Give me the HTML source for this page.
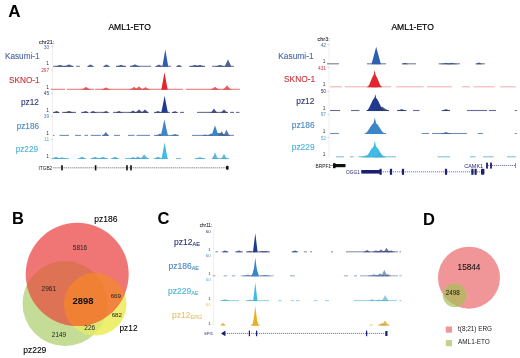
<!DOCTYPE html>
<html><head><meta charset="utf-8"><style>
html,body{margin:0;padding:0;background:#fff;}
body{width:520px;height:358px;overflow:hidden;position:relative;}
svg{filter:blur(0.45px);position:absolute;left:0;top:0;font-family:"Liberation Sans", sans-serif;}
</style></head><body>
<svg width="520" height="358" viewBox="0 0 520 358">
<rect width="520" height="358" fill="#fff"/>
<text x="8.3" y="17" font-size="17" fill="#000" text-anchor="start" font-weight="bold" >A</text><text x="129.6" y="30" font-size="8.5" fill="#000" text-anchor="middle" font-weight="normal" stroke="#000" stroke-width="0.2">AML1-ETO</text><text x="412.6" y="29.8" font-size="8.5" fill="#000" text-anchor="middle" font-weight="normal" stroke="#000" stroke-width="0.2">AML1-ETO</text><rect x="52.400000000000006" y="45" width="0.6" height="115" fill="#e6e6e6"/><text x="54.3" y="43.8" font-size="5.5" fill="#333" text-anchor="end" font-weight="normal" stroke="#333" stroke-width="0.12">chr21:</text><text x="39.6" y="59.2" font-size="8.2" fill="#4a68a8" text-anchor="end" font-weight="normal" stroke="#4a68a8" stroke-width="0.12">Kasumi-1</text><text x="49.2" y="48.8" font-size="4.8" fill="#4a68a8" text-anchor="end" font-weight="normal" >30</text><text x="48.8" y="65.2" font-size="4.8" fill="#333" text-anchor="end" font-weight="normal" >1</text><rect x="51.1" y="46.5" width="1.6" height="0.5" fill="#aaa"/><text x="39.6" y="83.0" font-size="8.2" fill="#c9343c" text-anchor="end" font-weight="normal" stroke="#c9343c" stroke-width="0.12">SKNO-1</text><text x="49.2" y="72.1" font-size="4.8" fill="#c9343c" text-anchor="end" font-weight="normal" >297</text><text x="48.8" y="88.5" font-size="4.8" fill="#333" text-anchor="end" font-weight="normal" >1</text><rect x="51.1" y="69.8" width="1.6" height="0.5" fill="#aaa"/><text x="38.8" y="105.3" font-size="8.2" fill="#2e3870" text-anchor="end" font-weight="normal" stroke="#2e3870" stroke-width="0.12">pz12</text><text x="49.2" y="95.2" font-size="4.8" fill="#2e3870" text-anchor="end" font-weight="normal" >45</text><text x="48.8" y="111.60000000000001" font-size="4.8" fill="#333" text-anchor="end" font-weight="normal" >1</text><rect x="51.1" y="92.9" width="1.6" height="0.5" fill="#aaa"/><text x="39.0" y="129.3" font-size="8.2" fill="#4a88c2" text-anchor="end" font-weight="normal" stroke="#4a88c2" stroke-width="0.12">pz186</text><text x="49.2" y="118.2" font-size="4.8" fill="#4a88c2" text-anchor="end" font-weight="normal" >39</text><text x="48.8" y="134.6" font-size="4.8" fill="#333" text-anchor="end" font-weight="normal" >1</text><rect x="51.1" y="115.9" width="1.6" height="0.5" fill="#aaa"/><text x="38.0" y="151.9" font-size="8.2" fill="#4eb2d8" text-anchor="end" font-weight="normal" stroke="#4eb2d8" stroke-width="0.12">pz229</text><text x="49.2" y="141.3" font-size="4.8" fill="#4eb2d8" text-anchor="end" font-weight="normal" >11</text><text x="48.8" y="157.7" font-size="4.8" fill="#333" text-anchor="end" font-weight="normal" >1</text><rect x="51.1" y="139.0" width="1.6" height="0.5" fill="#aaa"/><rect x="53.00" y="65.75" width="20.00" height="1.10" fill="#3b4c7c" opacity="0.72"/><rect x="76.00" y="65.75" width="4.00" height="1.10" fill="#3b4c7c" opacity="0.72"/><rect x="88.00" y="65.75" width="5.00" height="1.10" fill="#3b4c7c" opacity="0.72"/><rect x="104.00" y="65.75" width="5.00" height="1.10" fill="#3b4c7c" opacity="0.72"/><rect x="116.00" y="65.75" width="10.00" height="1.10" fill="#3b4c7c" opacity="0.72"/><rect x="130.00" y="65.75" width="21.00" height="1.10" fill="#3b4c7c" opacity="0.72"/><rect x="156.00" y="65.75" width="15.00" height="1.10" fill="#3b4c7c" opacity="0.72"/><rect x="177.00" y="65.75" width="4.00" height="1.10" fill="#3b4c7c" opacity="0.72"/><rect x="189.00" y="65.75" width="16.00" height="1.10" fill="#3b4c7c" opacity="0.72"/><rect x="212.00" y="65.75" width="22.00" height="1.10" fill="#3b4c7c" opacity="0.72"/><polygon points="55.00,66.70 55.00,66.30 55.21,66.29 55.42,66.26 55.62,66.23 55.83,66.20 56.04,66.16 56.25,66.11 56.46,66.06 56.67,66.01 56.88,65.96 57.08,65.90 57.29,65.83 57.50,65.77 57.71,65.70 57.92,65.63 58.12,65.56 58.33,65.48 58.54,65.41 58.75,65.33 58.96,65.24 59.17,65.16 59.38,65.07 59.58,64.98 59.79,64.89 60.00,64.80 60.21,64.89 60.42,64.98 60.62,65.07 60.83,65.16 61.04,65.24 61.25,65.33 61.46,65.41 61.67,65.48 61.88,65.56 62.08,65.63 62.29,65.70 62.50,65.77 62.71,65.83 62.92,65.90 63.12,65.96 63.33,66.01 63.54,66.06 63.75,66.11 63.96,66.16 64.17,66.20 64.38,66.23 64.58,66.26 64.79,66.29 65.00,66.30 65.00,66.70" fill="#3b4c7c" opacity="0.87"/><polygon points="64.00,66.70 64.00,66.30 64.21,66.28 64.42,66.25 64.62,66.21 64.83,66.16 65.04,66.11 65.25,66.05 65.46,65.98 65.67,65.92 65.88,65.84 66.08,65.76 66.29,65.68 66.50,65.59 66.71,65.50 66.92,65.41 67.12,65.31 67.33,65.21 67.54,65.11 67.75,65.00 67.96,64.89 68.17,64.78 68.38,64.66 68.58,64.54 68.79,64.42 69.00,64.30 69.21,64.42 69.42,64.54 69.62,64.66 69.83,64.78 70.04,64.89 70.25,65.00 70.46,65.11 70.67,65.21 70.88,65.31 71.08,65.41 71.29,65.50 71.50,65.59 71.71,65.68 71.92,65.76 72.12,65.84 72.33,65.92 72.54,65.98 72.75,66.05 72.96,66.11 73.17,66.16 73.38,66.21 73.58,66.25 73.79,66.28 74.00,66.30 74.00,66.70" fill="#3b4c7c" opacity="0.87"/><polygon points="87.00,66.70 87.00,66.30 87.15,66.28 87.29,66.25 87.44,66.21 87.58,66.16 87.73,66.11 87.88,66.05 88.02,65.98 88.17,65.92 88.31,65.84 88.46,65.76 88.60,65.68 88.75,65.59 88.90,65.50 89.04,65.41 89.19,65.31 89.33,65.21 89.48,65.11 89.62,65.00 89.77,64.89 89.92,64.78 90.06,64.66 90.21,64.54 90.35,64.42 90.50,64.30 90.65,64.42 90.79,64.54 90.94,64.66 91.08,64.78 91.23,64.89 91.38,65.00 91.52,65.11 91.67,65.21 91.81,65.31 91.96,65.41 92.10,65.50 92.25,65.59 92.40,65.68 92.54,65.76 92.69,65.84 92.83,65.92 92.98,65.98 93.12,66.05 93.27,66.11 93.42,66.16 93.56,66.21 93.71,66.25 93.85,66.28 94.00,66.30 94.00,66.70" fill="#3b4c7c" opacity="0.87"/><polygon points="103.00,66.70 103.00,66.30 103.15,66.28 103.29,66.25 103.44,66.21 103.58,66.16 103.73,66.11 103.88,66.05 104.02,65.98 104.17,65.92 104.31,65.84 104.46,65.76 104.60,65.68 104.75,65.59 104.90,65.50 105.04,65.41 105.19,65.31 105.33,65.21 105.48,65.11 105.62,65.00 105.77,64.89 105.92,64.78 106.06,64.66 106.21,64.54 106.35,64.42 106.50,64.30 106.65,64.42 106.79,64.54 106.94,64.66 107.08,64.78 107.23,64.89 107.38,65.00 107.52,65.11 107.67,65.21 107.81,65.31 107.96,65.41 108.10,65.50 108.25,65.59 108.40,65.68 108.54,65.76 108.69,65.84 108.83,65.92 108.98,65.98 109.12,66.05 109.27,66.11 109.42,66.16 109.56,66.21 109.71,66.25 109.85,66.28 110.00,66.30 110.00,66.70" fill="#3b4c7c" opacity="0.87"/><polygon points="116.00,66.70 116.00,66.30 116.21,66.29 116.42,66.26 116.62,66.23 116.83,66.20 117.04,66.16 117.25,66.11 117.46,66.06 117.67,66.01 117.88,65.96 118.08,65.90 118.29,65.83 118.50,65.77 118.71,65.70 118.92,65.63 119.12,65.56 119.33,65.48 119.54,65.41 119.75,65.33 119.96,65.24 120.17,65.16 120.38,65.07 120.58,64.98 120.79,64.89 121.00,64.80 121.21,64.89 121.42,64.98 121.62,65.07 121.83,65.16 122.04,65.24 122.25,65.33 122.46,65.41 122.67,65.48 122.88,65.56 123.08,65.63 123.29,65.70 123.50,65.77 123.71,65.83 123.92,65.90 124.12,65.96 124.33,66.01 124.54,66.06 124.75,66.11 124.96,66.16 125.17,66.20 125.38,66.23 125.58,66.26 125.79,66.29 126.00,66.30 126.00,66.70" fill="#3b4c7c" opacity="0.87"/><polygon points="130.00,66.70 130.00,66.30 130.21,66.28 130.42,66.25 130.62,66.21 130.83,66.16 131.04,66.11 131.25,66.05 131.46,65.98 131.67,65.92 131.88,65.84 132.08,65.76 132.29,65.68 132.50,65.59 132.71,65.50 132.92,65.41 133.12,65.31 133.33,65.21 133.54,65.11 133.75,65.00 133.96,64.89 134.17,64.78 134.38,64.66 134.58,64.54 134.79,64.42 135.00,64.30 135.21,64.42 135.42,64.54 135.62,64.66 135.83,64.78 136.04,64.89 136.25,65.00 136.46,65.11 136.67,65.21 136.88,65.31 137.08,65.41 137.29,65.50 137.50,65.59 137.71,65.68 137.92,65.76 138.12,65.84 138.33,65.92 138.54,65.98 138.75,66.05 138.96,66.11 139.17,66.16 139.38,66.21 139.58,66.25 139.79,66.28 140.00,66.30 140.00,66.70" fill="#3b4c7c" opacity="0.87"/><polygon points="155.00,66.70 155.00,66.30 155.17,66.28 155.33,66.26 155.50,66.22 155.67,66.18 155.83,66.13 156.00,66.08 156.17,66.02 156.33,65.95 156.50,65.89 156.67,65.82 156.83,65.74 157.00,65.66 157.17,65.58 157.33,65.50 157.50,65.41 157.67,65.32 157.83,65.23 158.00,65.13 158.17,65.03 158.33,64.93 158.50,64.83 158.67,64.72 158.83,64.61 159.00,64.50 159.17,64.61 159.33,64.72 159.50,64.83 159.67,64.93 159.83,65.03 160.00,65.13 160.17,65.23 160.33,65.32 160.50,65.41 160.67,65.50 160.83,65.58 161.00,65.66 161.17,65.74 161.33,65.82 161.50,65.89 161.67,65.95 161.83,66.02 162.00,66.08 162.17,66.13 162.33,66.18 162.50,66.22 162.67,66.26 162.83,66.28 163.00,66.30 163.00,66.70" fill="#3b4c7c" opacity="0.87"/><polygon points="162.40,66.70 162.40,66.30 162.52,65.59 162.64,64.88 162.76,64.17 162.88,63.47 163.00,62.76 163.12,62.05 163.25,61.34 163.37,60.63 163.49,59.92 163.61,59.22 163.73,58.51 163.85,57.80 163.97,57.09 164.09,56.38 164.21,55.68 164.33,54.97 164.45,54.26 164.58,53.55 164.70,52.84 164.82,52.13 164.94,51.43 165.06,50.72 165.18,50.01 165.30,49.30 165.42,50.01 165.54,50.72 165.66,51.42 165.78,52.13 165.90,52.84 166.03,53.55 166.15,54.26 166.27,54.97 166.39,55.68 166.51,56.38 166.63,57.09 166.75,57.80 166.87,58.51 166.99,59.22 167.11,59.92 167.23,60.63 167.35,61.34 167.47,62.05 167.60,62.76 167.72,63.47 167.84,64.17 167.96,64.88 168.08,65.59 168.20,66.30 168.20,66.70" fill="#2f5fae" opacity="1"/><polygon points="176.00,66.70 176.00,66.30 176.12,66.29 176.25,66.26 176.38,66.23 176.50,66.20 176.62,66.16 176.75,66.11 176.88,66.06 177.00,66.01 177.12,65.96 177.25,65.90 177.38,65.83 177.50,65.77 177.62,65.70 177.75,65.63 177.88,65.56 178.00,65.48 178.12,65.41 178.25,65.33 178.38,65.24 178.50,65.16 178.62,65.07 178.75,64.98 178.88,64.89 179.00,64.80 179.12,64.89 179.25,64.98 179.38,65.07 179.50,65.16 179.62,65.24 179.75,65.33 179.88,65.41 180.00,65.48 180.12,65.56 180.25,65.63 180.38,65.70 180.50,65.77 180.62,65.83 180.75,65.90 180.88,65.96 181.00,66.01 181.12,66.06 181.25,66.11 181.38,66.16 181.50,66.20 181.62,66.23 181.75,66.26 181.88,66.29 182.00,66.30 182.00,66.70" fill="#3b4c7c" opacity="0.87"/><polygon points="190.00,66.70 190.00,66.30 190.21,66.29 190.42,66.26 190.62,66.23 190.83,66.20 191.04,66.16 191.25,66.11 191.46,66.06 191.67,66.01 191.88,65.96 192.08,65.90 192.29,65.83 192.50,65.77 192.71,65.70 192.92,65.63 193.12,65.56 193.33,65.48 193.54,65.41 193.75,65.33 193.96,65.24 194.17,65.16 194.38,65.07 194.58,64.98 194.79,64.89 195.00,64.80 195.21,64.89 195.42,64.98 195.62,65.07 195.83,65.16 196.04,65.24 196.25,65.33 196.46,65.41 196.67,65.48 196.88,65.56 197.08,65.63 197.29,65.70 197.50,65.77 197.71,65.83 197.92,65.90 198.12,65.96 198.33,66.01 198.54,66.06 198.75,66.11 198.96,66.16 199.17,66.20 199.38,66.23 199.58,66.26 199.79,66.29 200.00,66.30 200.00,66.70" fill="#3b4c7c" opacity="0.87"/><polygon points="195.00,66.70 195.00,66.30 195.21,66.29 195.42,66.26 195.62,66.23 195.83,66.20 196.04,66.16 196.25,66.11 196.46,66.06 196.67,66.01 196.88,65.96 197.08,65.90 197.29,65.83 197.50,65.77 197.71,65.70 197.92,65.63 198.12,65.56 198.33,65.48 198.54,65.41 198.75,65.33 198.96,65.24 199.17,65.16 199.38,65.07 199.58,64.98 199.79,64.89 200.00,64.80 200.21,64.89 200.42,64.98 200.62,65.07 200.83,65.16 201.04,65.24 201.25,65.33 201.46,65.41 201.67,65.48 201.88,65.56 202.08,65.63 202.29,65.70 202.50,65.77 202.71,65.83 202.92,65.90 203.12,65.96 203.33,66.01 203.54,66.06 203.75,66.11 203.96,66.16 204.17,66.20 204.38,66.23 204.58,66.26 204.79,66.29 205.00,66.30 205.00,66.70" fill="#3b4c7c" opacity="0.87"/><polygon points="215.00,66.70 215.00,66.30 215.21,66.29 215.42,66.26 215.62,66.23 215.83,66.20 216.04,66.16 216.25,66.11 216.46,66.06 216.67,66.01 216.88,65.96 217.08,65.90 217.29,65.83 217.50,65.77 217.71,65.70 217.92,65.63 218.12,65.56 218.33,65.48 218.54,65.41 218.75,65.33 218.96,65.24 219.17,65.16 219.38,65.07 219.58,64.98 219.79,64.89 220.00,64.80 220.21,64.89 220.42,64.98 220.62,65.07 220.83,65.16 221.04,65.24 221.25,65.33 221.46,65.41 221.67,65.48 221.88,65.56 222.08,65.63 222.29,65.70 222.50,65.77 222.71,65.83 222.92,65.90 223.12,65.96 223.33,66.01 223.54,66.06 223.75,66.11 223.96,66.16 224.17,66.20 224.38,66.23 224.58,66.26 224.79,66.29 225.00,66.30 225.00,66.70" fill="#3b4c7c" opacity="0.87"/><polygon points="224.80,66.70 224.80,66.30 224.93,66.01 225.07,65.72 225.20,65.42 225.33,65.13 225.47,64.84 225.60,64.55 225.73,64.26 225.87,63.97 226.00,63.67 226.13,63.38 226.27,63.09 226.40,62.80 226.53,62.51 226.67,62.22 226.80,61.92 226.93,61.63 227.07,61.34 227.20,61.05 227.33,60.76 227.47,60.47 227.60,60.17 227.73,59.88 227.87,59.59 228.00,59.30 228.13,59.59 228.27,59.88 228.40,60.18 228.53,60.47 228.67,60.76 228.80,61.05 228.93,61.34 229.07,61.63 229.20,61.93 229.33,62.22 229.47,62.51 229.60,62.80 229.73,63.09 229.87,63.38 230.00,63.67 230.13,63.97 230.27,64.26 230.40,64.55 230.53,64.84 230.67,65.13 230.80,65.43 230.93,65.72 231.07,66.01 231.20,66.30 231.20,66.70" fill="#3b4c7c" opacity="0.87"/><rect x="51.00" y="88.75" width="14.00" height="1.10" fill="#e04a4a" opacity="0.72"/><rect x="67.00" y="88.75" width="27.00" height="1.10" fill="#e04a4a" opacity="0.72"/><rect x="95.00" y="88.75" width="88.00" height="1.10" fill="#e04a4a" opacity="0.72"/><rect x="186.00" y="88.75" width="54.00" height="1.10" fill="#e04a4a" opacity="0.72"/><polygon points="81.00,89.70 81.00,89.30 81.21,89.28 81.42,89.24 81.62,89.19 81.83,89.13 82.04,89.06 82.25,88.99 82.46,88.91 82.67,88.82 82.88,88.73 83.08,88.63 83.29,88.52 83.50,88.42 83.71,88.30 83.92,88.19 84.12,88.06 84.33,87.94 84.54,87.81 84.75,87.68 84.96,87.54 85.17,87.40 85.38,87.25 85.58,87.11 85.79,86.95 86.00,86.80 86.21,86.95 86.42,87.11 86.62,87.25 86.83,87.40 87.04,87.54 87.25,87.68 87.46,87.81 87.67,87.94 87.88,88.06 88.08,88.19 88.29,88.30 88.50,88.42 88.71,88.52 88.92,88.63 89.12,88.73 89.33,88.82 89.54,88.91 89.75,88.99 89.96,89.06 90.17,89.13 90.38,89.19 90.58,89.24 90.79,89.28 91.00,89.30 91.00,89.70" fill="#e04a4a" opacity="0.87"/><polygon points="101.50,89.70 101.50,89.30 101.69,89.28 101.88,89.25 102.06,89.21 102.25,89.16 102.44,89.11 102.62,89.05 102.81,88.98 103.00,88.92 103.19,88.84 103.38,88.76 103.56,88.68 103.75,88.59 103.94,88.50 104.12,88.41 104.31,88.31 104.50,88.21 104.69,88.11 104.88,88.00 105.06,87.89 105.25,87.78 105.44,87.66 105.62,87.54 105.81,87.42 106.00,87.30 106.19,87.42 106.38,87.54 106.56,87.66 106.75,87.78 106.94,87.89 107.12,88.00 107.31,88.11 107.50,88.21 107.69,88.31 107.88,88.41 108.06,88.50 108.25,88.59 108.44,88.68 108.62,88.76 108.81,88.84 109.00,88.92 109.19,88.98 109.38,89.05 109.56,89.11 109.75,89.16 109.94,89.21 110.12,89.25 110.31,89.28 110.50,89.30 110.50,89.70" fill="#e04a4a" opacity="0.87"/><polygon points="129.50,89.70 129.50,89.30 129.69,89.28 129.88,89.24 130.06,89.19 130.25,89.13 130.44,89.06 130.62,88.99 130.81,88.91 131.00,88.82 131.19,88.73 131.38,88.63 131.56,88.52 131.75,88.42 131.94,88.30 132.12,88.19 132.31,88.06 132.50,87.94 132.69,87.81 132.88,87.68 133.06,87.54 133.25,87.40 133.44,87.25 133.62,87.11 133.81,86.95 134.00,86.80 134.19,86.95 134.38,87.11 134.56,87.25 134.75,87.40 134.94,87.54 135.12,87.68 135.31,87.81 135.50,87.94 135.69,88.06 135.88,88.19 136.06,88.30 136.25,88.42 136.44,88.52 136.62,88.63 136.81,88.73 137.00,88.82 137.19,88.91 137.38,88.99 137.56,89.06 137.75,89.13 137.94,89.19 138.12,89.24 138.31,89.28 138.50,89.30 138.50,89.70" fill="#e04a4a" opacity="0.87"/><polygon points="134.50,89.70 134.50,89.30 134.69,89.27 134.88,89.23 135.06,89.17 135.25,89.10 135.44,89.01 135.62,88.92 135.81,88.83 136.00,88.72 136.19,88.61 136.38,88.49 136.56,88.37 136.75,88.24 136.94,88.10 137.12,87.96 137.31,87.82 137.50,87.67 137.69,87.51 137.88,87.35 138.06,87.19 138.25,87.02 138.44,86.84 138.62,86.67 138.81,86.49 139.00,86.30 139.19,86.49 139.38,86.67 139.56,86.84 139.75,87.02 139.94,87.19 140.12,87.35 140.31,87.51 140.50,87.67 140.69,87.82 140.88,87.96 141.06,88.10 141.25,88.24 141.44,88.37 141.62,88.49 141.81,88.61 142.00,88.72 142.19,88.83 142.38,88.92 142.56,89.01 142.75,89.10 142.94,89.17 143.12,89.23 143.31,89.27 143.50,89.30 143.50,89.70" fill="#e04a4a" opacity="0.87"/><polygon points="141.00,89.70 141.00,89.30 141.19,89.28 141.38,89.25 141.56,89.20 141.75,89.15 141.94,89.09 142.12,89.02 142.31,88.95 142.50,88.88 142.69,88.79 142.88,88.71 143.06,88.62 143.25,88.52 143.44,88.42 143.62,88.32 143.81,88.21 144.00,88.10 144.19,87.99 144.38,87.87 144.56,87.75 144.75,87.63 144.94,87.50 145.12,87.37 145.31,87.24 145.50,87.10 145.69,87.24 145.88,87.37 146.06,87.50 146.25,87.63 146.44,87.75 146.62,87.87 146.81,87.99 147.00,88.10 147.19,88.21 147.38,88.32 147.56,88.42 147.75,88.52 147.94,88.62 148.12,88.71 148.31,88.79 148.50,88.88 148.69,88.95 148.88,89.02 149.06,89.09 149.25,89.15 149.44,89.20 149.62,89.25 149.81,89.28 150.00,89.30 150.00,89.70" fill="#e04a4a" opacity="0.87"/><polygon points="161.40,89.70 161.40,89.30 161.53,88.59 161.66,87.88 161.79,87.18 161.92,86.47 162.05,85.76 162.18,85.05 162.30,84.34 162.43,83.63 162.56,82.92 162.69,82.22 162.82,81.51 162.95,80.80 163.08,80.09 163.21,79.38 163.34,78.67 163.47,77.97 163.60,77.26 163.72,76.55 163.85,75.84 163.98,75.13 164.11,74.42 164.24,73.72 164.37,73.01 164.50,72.30 164.63,73.01 164.76,73.72 164.89,74.43 165.02,75.13 165.15,75.84 165.28,76.55 165.40,77.26 165.53,77.97 165.66,78.67 165.79,79.38 165.92,80.09 166.05,80.80 166.18,81.51 166.31,82.22 166.44,82.92 166.57,83.63 166.70,84.34 166.83,85.05 166.95,85.76 167.08,86.47 167.21,87.18 167.34,87.88 167.47,88.59 167.60,89.30 167.60,89.70" fill="#e3262e" opacity="1"/><polygon points="210.50,89.70 210.50,89.30 210.69,89.28 210.88,89.24 211.06,89.19 211.25,89.13 211.44,89.06 211.62,88.99 211.81,88.91 212.00,88.82 212.19,88.73 212.38,88.63 212.56,88.52 212.75,88.42 212.94,88.30 213.12,88.19 213.31,88.06 213.50,87.94 213.69,87.81 213.88,87.68 214.06,87.54 214.25,87.40 214.44,87.25 214.62,87.11 214.81,86.95 215.00,86.80 215.19,86.95 215.38,87.11 215.56,87.25 215.75,87.40 215.94,87.54 216.12,87.68 216.31,87.81 216.50,87.94 216.69,88.06 216.88,88.19 217.06,88.30 217.25,88.42 217.44,88.52 217.62,88.63 217.81,88.73 218.00,88.82 218.19,88.91 218.38,88.99 218.56,89.06 218.75,89.13 218.94,89.19 219.12,89.24 219.31,89.28 219.50,89.30 219.50,89.70" fill="#e04a4a" opacity="0.87"/><polygon points="222.50,89.70 222.50,89.30 222.69,89.27 222.88,89.20 223.06,89.12 223.25,89.03 223.44,88.92 223.62,88.80 223.81,88.67 224.00,88.53 224.19,88.38 224.38,88.22 224.56,88.06 224.75,87.89 224.94,87.71 225.12,87.52 225.31,87.32 225.50,87.12 225.69,86.92 225.88,86.70 226.06,86.48 226.25,86.26 226.44,86.03 226.62,85.79 226.81,85.55 227.00,85.30 227.19,85.55 227.38,85.79 227.56,86.03 227.75,86.26 227.94,86.48 228.12,86.70 228.31,86.92 228.50,87.12 228.69,87.32 228.88,87.52 229.06,87.71 229.25,87.89 229.44,88.06 229.62,88.22 229.81,88.38 230.00,88.53 230.19,88.67 230.38,88.80 230.56,88.92 230.75,89.03 230.94,89.12 231.12,89.20 231.31,89.27 231.50,89.30 231.50,89.70" fill="#e04a4a" opacity="0.87"/><rect x="53.00" y="111.85" width="6.00" height="1.10" fill="#2a3672" opacity="0.72"/><rect x="62.00" y="111.85" width="14.00" height="1.10" fill="#2a3672" opacity="0.72"/><rect x="81.00" y="111.85" width="7.00" height="1.10" fill="#2a3672" opacity="0.72"/><rect x="91.00" y="111.85" width="17.00" height="1.10" fill="#2a3672" opacity="0.72"/><rect x="113.00" y="111.85" width="35.00" height="1.10" fill="#2a3672" opacity="0.72"/><rect x="154.00" y="111.85" width="16.00" height="1.10" fill="#2a3672" opacity="0.72"/><rect x="172.00" y="111.85" width="5.00" height="1.10" fill="#2a3672" opacity="0.72"/><rect x="180.00" y="111.85" width="4.00" height="1.10" fill="#2a3672" opacity="0.72"/><rect x="197.00" y="111.85" width="31.00" height="1.10" fill="#2a3672" opacity="0.72"/><rect x="230.00" y="111.85" width="4.00" height="1.10" fill="#2a3672" opacity="0.72"/><rect x="236.00" y="111.85" width="3.50" height="1.10" fill="#2a3672" opacity="0.72"/><polygon points="53.00,112.80 53.00,112.40 53.15,112.39 53.29,112.36 53.44,112.33 53.58,112.30 53.73,112.26 53.88,112.21 54.02,112.16 54.17,112.11 54.31,112.06 54.46,112.00 54.60,111.93 54.75,111.87 54.90,111.80 55.04,111.73 55.19,111.66 55.33,111.58 55.48,111.51 55.62,111.43 55.77,111.34 55.92,111.26 56.06,111.17 56.21,111.08 56.35,110.99 56.50,110.90 56.65,110.99 56.79,111.08 56.94,111.17 57.08,111.26 57.23,111.34 57.38,111.43 57.52,111.51 57.67,111.58 57.81,111.66 57.96,111.73 58.10,111.80 58.25,111.87 58.40,111.93 58.54,112.00 58.69,112.06 58.83,112.11 58.98,112.16 59.12,112.21 59.27,112.26 59.42,112.30 59.56,112.33 59.71,112.36 59.85,112.39 60.00,112.40 60.00,112.80" fill="#2a3672" opacity="0.87"/><polygon points="64.00,112.80 64.00,112.40 64.21,112.39 64.42,112.36 64.62,112.33 64.83,112.30 65.04,112.26 65.25,112.21 65.46,112.16 65.67,112.11 65.88,112.06 66.08,112.00 66.29,111.93 66.50,111.87 66.71,111.80 66.92,111.73 67.12,111.66 67.33,111.58 67.54,111.51 67.75,111.43 67.96,111.34 68.17,111.26 68.38,111.17 68.58,111.08 68.79,110.99 69.00,110.90 69.21,110.99 69.42,111.08 69.62,111.17 69.83,111.26 70.04,111.34 70.25,111.43 70.46,111.51 70.67,111.58 70.88,111.66 71.08,111.73 71.29,111.80 71.50,111.87 71.71,111.93 71.92,112.00 72.12,112.06 72.33,112.11 72.54,112.16 72.75,112.21 72.96,112.26 73.17,112.30 73.38,112.33 73.58,112.36 73.79,112.39 74.00,112.40 74.00,112.80" fill="#2a3672" opacity="0.87"/><polygon points="82.00,112.80 82.00,112.40 82.15,112.39 82.29,112.36 82.44,112.33 82.58,112.30 82.73,112.26 82.88,112.21 83.02,112.16 83.17,112.11 83.31,112.06 83.46,112.00 83.60,111.93 83.75,111.87 83.90,111.80 84.04,111.73 84.19,111.66 84.33,111.58 84.48,111.51 84.62,111.43 84.77,111.34 84.92,111.26 85.06,111.17 85.21,111.08 85.35,110.99 85.50,110.90 85.65,110.99 85.79,111.08 85.94,111.17 86.08,111.26 86.23,111.34 86.38,111.43 86.52,111.51 86.67,111.58 86.81,111.66 86.96,111.73 87.10,111.80 87.25,111.87 87.40,111.93 87.54,112.00 87.69,112.06 87.83,112.11 87.98,112.16 88.12,112.21 88.27,112.26 88.42,112.30 88.56,112.33 88.71,112.36 88.85,112.39 89.00,112.40 89.00,112.80" fill="#2a3672" opacity="0.87"/><polygon points="89.50,112.80 89.50,112.40 89.65,112.39 89.79,112.36 89.94,112.33 90.08,112.30 90.23,112.26 90.38,112.21 90.52,112.16 90.67,112.11 90.81,112.06 90.96,112.00 91.10,111.93 91.25,111.87 91.40,111.80 91.54,111.73 91.69,111.66 91.83,111.58 91.98,111.51 92.12,111.43 92.27,111.34 92.42,111.26 92.56,111.17 92.71,111.08 92.85,110.99 93.00,110.90 93.15,110.99 93.29,111.08 93.44,111.17 93.58,111.26 93.73,111.34 93.88,111.43 94.02,111.51 94.17,111.58 94.31,111.66 94.46,111.73 94.60,111.80 94.75,111.87 94.90,111.93 95.04,112.00 95.19,112.06 95.33,112.11 95.48,112.16 95.62,112.21 95.77,112.26 95.92,112.30 96.06,112.33 96.21,112.36 96.35,112.39 96.50,112.40 96.50,112.80" fill="#2a3672" opacity="0.87"/><polygon points="102.50,112.80 102.50,112.40 102.65,112.39 102.79,112.36 102.94,112.33 103.08,112.30 103.23,112.26 103.38,112.21 103.52,112.16 103.67,112.11 103.81,112.06 103.96,112.00 104.10,111.93 104.25,111.87 104.40,111.80 104.54,111.73 104.69,111.66 104.83,111.58 104.98,111.51 105.12,111.43 105.27,111.34 105.42,111.26 105.56,111.17 105.71,111.08 105.85,110.99 106.00,110.90 106.15,110.99 106.29,111.08 106.44,111.17 106.58,111.26 106.73,111.34 106.88,111.43 107.02,111.51 107.17,111.58 107.31,111.66 107.46,111.73 107.60,111.80 107.75,111.87 107.90,111.93 108.04,112.00 108.19,112.06 108.33,112.11 108.48,112.16 108.62,112.21 108.77,112.26 108.92,112.30 109.06,112.33 109.21,112.36 109.35,112.39 109.50,112.40 109.50,112.80" fill="#2a3672" opacity="0.87"/><polygon points="115.50,112.80 115.50,112.40 115.65,112.39 115.79,112.36 115.94,112.33 116.08,112.30 116.23,112.26 116.38,112.21 116.52,112.16 116.67,112.11 116.81,112.06 116.96,112.00 117.10,111.93 117.25,111.87 117.40,111.80 117.54,111.73 117.69,111.66 117.83,111.58 117.98,111.51 118.12,111.43 118.27,111.34 118.42,111.26 118.56,111.17 118.71,111.08 118.85,110.99 119.00,110.90 119.15,110.99 119.29,111.08 119.44,111.17 119.58,111.26 119.73,111.34 119.88,111.43 120.02,111.51 120.17,111.58 120.31,111.66 120.46,111.73 120.60,111.80 120.75,111.87 120.90,111.93 121.04,112.00 121.19,112.06 121.33,112.11 121.48,112.16 121.62,112.21 121.77,112.26 121.92,112.30 122.06,112.33 122.21,112.36 122.35,112.39 122.50,112.40 122.50,112.80" fill="#2a3672" opacity="0.87"/><polygon points="129.50,112.80 129.50,112.40 129.65,112.38 129.79,112.35 129.94,112.31 130.08,112.26 130.23,112.21 130.38,112.15 130.52,112.08 130.67,112.02 130.81,111.94 130.96,111.86 131.10,111.78 131.25,111.69 131.40,111.60 131.54,111.51 131.69,111.41 131.83,111.31 131.98,111.21 132.12,111.10 132.27,110.99 132.42,110.88 132.56,110.76 132.71,110.64 132.85,110.52 133.00,110.40 133.15,110.52 133.29,110.64 133.44,110.76 133.58,110.88 133.73,110.99 133.88,111.10 134.02,111.21 134.17,111.31 134.31,111.41 134.46,111.51 134.60,111.60 134.75,111.69 134.90,111.78 135.04,111.86 135.19,111.94 135.33,112.02 135.48,112.08 135.62,112.15 135.77,112.21 135.92,112.26 136.06,112.31 136.21,112.35 136.35,112.38 136.50,112.40 136.50,112.80" fill="#2a3672" opacity="0.87"/><polygon points="135.00,112.80 135.00,112.40 135.17,112.37 135.33,112.33 135.50,112.27 135.67,112.20 135.83,112.11 136.00,112.03 136.17,111.93 136.33,111.82 136.50,111.71 136.67,111.59 136.83,111.47 137.00,111.34 137.17,111.20 137.33,111.06 137.50,110.92 137.67,110.77 137.83,110.61 138.00,110.45 138.17,110.29 138.33,110.12 138.50,109.94 138.67,109.77 138.83,109.59 139.00,109.40 139.17,109.59 139.33,109.77 139.50,109.94 139.67,110.12 139.83,110.29 140.00,110.45 140.17,110.61 140.33,110.77 140.50,110.92 140.67,111.06 140.83,111.20 141.00,111.34 141.17,111.47 141.33,111.59 141.50,111.71 141.67,111.82 141.83,111.93 142.00,112.03 142.17,112.11 142.33,112.20 142.50,112.27 142.67,112.33 142.83,112.37 143.00,112.40 143.00,112.80" fill="#2a3672" opacity="0.87"/><polygon points="141.00,112.80 141.00,112.40 141.17,112.37 141.33,112.33 141.50,112.27 141.67,112.20 141.83,112.11 142.00,112.03 142.17,111.93 142.33,111.82 142.50,111.71 142.67,111.59 142.83,111.47 143.00,111.34 143.17,111.20 143.33,111.06 143.50,110.92 143.67,110.77 143.83,110.61 144.00,110.45 144.17,110.29 144.33,110.12 144.50,109.94 144.67,109.77 144.83,109.59 145.00,109.40 145.17,109.59 145.33,109.77 145.50,109.94 145.67,110.12 145.83,110.29 146.00,110.45 146.17,110.61 146.33,110.77 146.50,110.92 146.67,111.06 146.83,111.20 147.00,111.34 147.17,111.47 147.33,111.59 147.50,111.71 147.67,111.82 147.83,111.93 148.00,112.03 148.17,112.11 148.33,112.20 148.50,112.27 148.67,112.33 148.83,112.37 149.00,112.40 149.00,112.80" fill="#2a3672" opacity="0.87"/><polygon points="154.50,112.80 154.50,112.40 154.65,112.39 154.79,112.36 154.94,112.33 155.08,112.30 155.23,112.26 155.38,112.21 155.52,112.16 155.67,112.11 155.81,112.06 155.96,112.00 156.10,111.93 156.25,111.87 156.40,111.80 156.54,111.73 156.69,111.66 156.83,111.58 156.98,111.51 157.12,111.43 157.27,111.34 157.42,111.26 157.56,111.17 157.71,111.08 157.85,110.99 158.00,110.90 158.15,110.99 158.29,111.08 158.44,111.17 158.58,111.26 158.73,111.34 158.88,111.43 159.02,111.51 159.17,111.58 159.31,111.66 159.46,111.73 159.60,111.80 159.75,111.87 159.90,111.93 160.04,112.00 160.19,112.06 160.33,112.11 160.48,112.16 160.62,112.21 160.77,112.26 160.92,112.30 161.06,112.33 161.21,112.36 161.35,112.39 161.50,112.40 161.50,112.80" fill="#2a3672" opacity="0.87"/><polygon points="161.30,112.80 161.30,112.40 161.44,111.81 161.57,111.18 161.71,110.53 161.85,109.87 161.99,109.20 162.12,108.53 162.26,107.85 162.40,107.16 162.54,106.47 162.67,105.78 162.81,105.08 162.95,104.38 163.09,103.68 163.22,102.97 163.36,102.27 163.50,101.56 163.64,100.84 163.77,100.13 163.91,99.41 164.05,98.69 164.19,97.97 164.32,97.25 164.46,96.53 164.60,95.80 164.74,96.53 164.87,97.25 165.01,97.97 165.15,98.69 165.29,99.41 165.42,100.13 165.56,100.84 165.70,101.56 165.84,102.27 165.97,102.97 166.11,103.68 166.25,104.38 166.39,105.08 166.52,105.78 166.66,106.47 166.80,107.16 166.94,107.85 167.07,108.53 167.21,109.20 167.35,109.87 167.49,110.53 167.62,111.18 167.76,111.81 167.90,112.40 167.90,112.80" fill="#1f3a8e" opacity="1"/><polygon points="171.50,112.80 171.50,112.40 171.65,112.39 171.79,112.37 171.94,112.35 172.08,112.32 172.23,112.29 172.38,112.25 172.52,112.21 172.67,112.17 172.81,112.12 172.96,112.08 173.10,112.03 173.25,111.98 173.40,111.92 173.54,111.87 173.69,111.81 173.83,111.75 173.98,111.68 174.12,111.62 174.27,111.55 174.42,111.49 174.56,111.42 174.71,111.35 174.85,111.27 175.00,111.20 175.15,111.27 175.29,111.35 175.44,111.42 175.58,111.49 175.73,111.55 175.88,111.62 176.02,111.68 176.17,111.75 176.31,111.81 176.46,111.87 176.60,111.92 176.75,111.98 176.90,112.03 177.04,112.08 177.19,112.12 177.33,112.17 177.48,112.21 177.62,112.25 177.77,112.29 177.92,112.32 178.06,112.35 178.21,112.37 178.35,112.39 178.50,112.40 178.50,112.80" fill="#2a3672" opacity="0.87"/><polygon points="210.50,112.80 210.50,112.40 210.65,112.37 210.79,112.30 210.94,112.22 211.08,112.13 211.23,112.02 211.38,111.90 211.52,111.77 211.67,111.63 211.81,111.48 211.96,111.32 212.10,111.16 212.25,110.99 212.40,110.81 212.54,110.62 212.69,110.42 212.83,110.22 212.98,110.02 213.12,109.80 213.27,109.58 213.42,109.36 213.56,109.13 213.71,108.89 213.85,108.65 214.00,108.40 214.15,108.65 214.29,108.89 214.44,109.13 214.58,109.36 214.73,109.58 214.88,109.80 215.02,110.02 215.17,110.22 215.31,110.42 215.46,110.62 215.60,110.81 215.75,110.99 215.90,111.16 216.04,111.32 216.19,111.48 216.33,111.63 216.48,111.77 216.62,111.90 216.77,112.02 216.92,112.13 217.06,112.22 217.21,112.30 217.35,112.37 217.50,112.40 217.50,112.80" fill="#2a3672" opacity="0.87"/><polygon points="220.50,112.80 220.50,112.40 220.65,112.37 220.79,112.33 220.94,112.27 221.08,112.20 221.23,112.11 221.38,112.03 221.52,111.93 221.67,111.82 221.81,111.71 221.96,111.59 222.10,111.47 222.25,111.34 222.40,111.20 222.54,111.06 222.69,110.92 222.83,110.77 222.98,110.61 223.12,110.45 223.27,110.29 223.42,110.12 223.56,109.94 223.71,109.77 223.85,109.59 224.00,109.40 224.15,109.59 224.29,109.77 224.44,109.94 224.58,110.12 224.73,110.29 224.88,110.45 225.02,110.61 225.17,110.77 225.31,110.92 225.46,111.06 225.60,111.20 225.75,111.34 225.90,111.47 226.04,111.59 226.19,111.71 226.33,111.82 226.48,111.93 226.62,112.03 226.77,112.11 226.92,112.20 227.06,112.27 227.21,112.33 227.35,112.37 227.50,112.40 227.50,112.80" fill="#2a3672" opacity="0.87"/><rect x="53.00" y="134.85" width="1.50" height="1.10" fill="#40649a" opacity="0.72"/><rect x="59.50" y="134.85" width="9.50" height="1.10" fill="#40649a" opacity="0.72"/><rect x="75.00" y="134.85" width="6.00" height="1.10" fill="#40649a" opacity="0.72"/><rect x="84.50" y="134.85" width="3.50" height="1.10" fill="#40649a" opacity="0.72"/><rect x="90.80" y="134.85" width="10.00" height="1.10" fill="#40649a" opacity="0.72"/><rect x="102.00" y="134.85" width="6.50" height="1.10" fill="#40649a" opacity="0.72"/><rect x="114.00" y="134.85" width="6.00" height="1.10" fill="#40649a" opacity="0.72"/><rect x="128.00" y="134.85" width="6.50" height="1.10" fill="#40649a" opacity="0.72"/><rect x="136.50" y="134.85" width="13.50" height="1.10" fill="#40649a" opacity="0.72"/><rect x="154.00" y="134.85" width="24.50" height="1.10" fill="#40649a" opacity="0.72"/><rect x="192.00" y="134.85" width="42.00" height="1.10" fill="#40649a" opacity="0.72"/><polygon points="102.30,135.80 102.30,135.40 102.45,135.37 102.59,135.32 102.74,135.25 102.88,135.16 103.03,135.07 103.17,134.96 103.32,134.85 103.47,134.73 103.61,134.60 103.76,134.46 103.90,134.31 104.05,134.16 104.20,134.00 104.34,133.84 104.49,133.67 104.63,133.49 104.78,133.31 104.92,133.13 105.07,132.93 105.22,132.74 105.36,132.54 105.51,132.33 105.65,132.12 105.80,131.90 105.95,132.12 106.09,132.33 106.24,132.54 106.38,132.74 106.53,132.93 106.67,133.13 106.82,133.31 106.97,133.49 107.11,133.67 107.26,133.84 107.40,134.00 107.55,134.16 107.70,134.31 107.84,134.46 107.99,134.60 108.13,134.73 108.28,134.85 108.42,134.96 108.57,135.07 108.72,135.16 108.86,135.25 109.01,135.32 109.15,135.37 109.30,135.40 109.30,135.80" fill="#40649a" opacity="0.87"/><polygon points="156.00,135.80 156.00,135.40 156.17,135.38 156.33,135.35 156.50,135.31 156.67,135.26 156.83,135.21 157.00,135.15 157.17,135.08 157.33,135.02 157.50,134.94 157.67,134.86 157.83,134.78 158.00,134.69 158.17,134.60 158.33,134.51 158.50,134.41 158.67,134.31 158.83,134.21 159.00,134.10 159.17,133.99 159.33,133.88 159.50,133.76 159.67,133.64 159.83,133.52 160.00,133.40 160.17,133.52 160.33,133.64 160.50,133.76 160.67,133.88 160.83,133.99 161.00,134.10 161.17,134.21 161.33,134.31 161.50,134.41 161.67,134.51 161.83,134.60 162.00,134.69 162.17,134.78 162.33,134.86 162.50,134.94 162.67,135.02 162.83,135.08 163.00,135.15 163.17,135.21 163.33,135.26 163.50,135.31 163.67,135.35 163.83,135.38 164.00,135.40 164.00,135.80" fill="#40649a" opacity="0.87"/><polygon points="160.80,135.80 160.80,135.40 160.95,134.91 161.10,134.35 161.25,133.76 161.40,133.14 161.55,132.51 161.70,131.87 161.85,131.22 162.00,130.56 162.15,129.89 162.30,129.22 162.45,128.53 162.60,127.84 162.75,127.15 162.90,126.45 163.05,125.74 163.20,125.03 163.35,124.31 163.50,123.59 163.65,122.87 163.80,122.14 163.95,121.41 164.10,120.68 164.25,119.94 164.40,119.20 164.55,119.94 164.70,120.68 164.85,121.41 165.00,122.14 165.15,122.87 165.30,123.59 165.45,124.31 165.60,125.03 165.75,125.74 165.90,126.45 166.05,127.15 166.20,127.84 166.35,128.53 166.50,129.22 166.65,129.89 166.80,130.56 166.95,131.22 167.10,131.87 167.25,132.51 167.40,133.14 167.55,133.76 167.70,134.35 167.85,134.91 168.00,135.40 168.00,135.80" fill="#3d86c6" opacity="1"/><polygon points="171.00,135.80 171.00,135.40 171.17,135.39 171.33,135.36 171.50,135.33 171.67,135.30 171.83,135.26 172.00,135.21 172.17,135.16 172.33,135.11 172.50,135.06 172.67,135.00 172.83,134.93 173.00,134.87 173.17,134.80 173.33,134.73 173.50,134.66 173.67,134.58 173.83,134.51 174.00,134.43 174.17,134.34 174.33,134.26 174.50,134.17 174.67,134.08 174.83,133.99 175.00,133.90 175.17,133.99 175.33,134.08 175.50,134.17 175.67,134.26 175.83,134.34 176.00,134.43 176.17,134.51 176.33,134.58 176.50,134.66 176.67,134.73 176.83,134.80 177.00,134.87 177.17,134.93 177.33,135.00 177.50,135.06 177.67,135.11 177.83,135.16 178.00,135.21 178.17,135.26 178.33,135.30 178.50,135.33 178.67,135.36 178.83,135.39 179.00,135.40 179.00,135.80" fill="#40649a" opacity="0.87"/><polygon points="202.00,135.80 202.00,135.40 202.12,135.39 202.25,135.38 202.38,135.36 202.50,135.33 202.62,135.30 202.75,135.28 202.88,135.24 203.00,135.21 203.12,135.17 203.25,135.13 203.38,135.09 203.50,135.05 203.62,135.00 203.75,134.95 203.88,134.91 204.00,134.86 204.12,134.80 204.25,134.75 204.38,134.70 204.50,134.64 204.62,134.58 204.75,134.52 204.88,134.46 205.00,134.40 205.12,134.46 205.25,134.52 205.38,134.58 205.50,134.64 205.62,134.70 205.75,134.75 205.88,134.80 206.00,134.86 206.12,134.91 206.25,134.95 206.38,135.00 206.50,135.05 206.62,135.09 206.75,135.13 206.88,135.17 207.00,135.21 207.12,135.24 207.25,135.28 207.38,135.30 207.50,135.33 207.62,135.36 207.75,135.38 207.88,135.39 208.00,135.40 208.00,135.80" fill="#40649a" opacity="0.87"/><polygon points="207.00,135.80 207.00,135.40 207.17,135.38 207.33,135.35 207.50,135.31 207.67,135.26 207.83,135.21 208.00,135.15 208.17,135.08 208.33,135.02 208.50,134.94 208.67,134.86 208.83,134.78 209.00,134.69 209.17,134.60 209.33,134.51 209.50,134.41 209.67,134.31 209.83,134.21 210.00,134.10 210.17,133.99 210.33,133.88 210.50,133.76 210.67,133.64 210.83,133.52 211.00,133.40 211.17,133.52 211.33,133.64 211.50,133.76 211.67,133.88 211.83,133.99 212.00,134.10 212.17,134.21 212.33,134.31 212.50,134.41 212.67,134.51 212.83,134.60 213.00,134.69 213.17,134.78 213.33,134.86 213.50,134.94 213.67,135.02 213.83,135.08 214.00,135.15 214.17,135.21 214.33,135.26 214.50,135.31 214.67,135.35 214.83,135.38 215.00,135.40 215.00,135.80" fill="#40649a" opacity="0.87"/><polygon points="210.00,135.80 210.00,135.40 210.38,135.39 210.75,135.36 211.12,135.30 211.50,135.23 211.88,135.14 212.25,135.03 212.62,134.91 213.00,134.78 213.38,134.63 213.75,134.47 214.12,134.31 214.50,134.15 214.88,133.99 215.25,133.83 215.62,133.67 216.00,133.53 216.38,133.39 216.75,133.27 217.12,133.16 217.50,133.07 217.88,133.00 218.25,132.94 218.62,132.91 219.00,132.90 219.38,132.91 219.75,132.94 220.12,133.00 220.50,133.07 220.88,133.16 221.25,133.27 221.62,133.39 222.00,133.53 222.38,133.67 222.75,133.83 223.12,133.99 223.50,134.15 223.88,134.31 224.25,134.47 224.62,134.63 225.00,134.78 225.38,134.91 225.75,135.03 226.12,135.14 226.50,135.23 226.88,135.30 227.25,135.36 227.62,135.39 228.00,135.40 228.00,135.80" fill="#40649a" opacity="0.87"/><polygon points="211.50,135.80 211.50,135.40 211.65,134.98 211.79,134.57 211.94,134.15 212.08,133.73 212.23,133.32 212.38,132.90 212.52,132.48 212.67,132.07 212.81,131.65 212.96,131.23 213.10,130.82 213.25,130.40 213.40,129.98 213.54,129.57 213.69,129.15 213.83,128.73 213.98,128.32 214.12,127.90 214.27,127.48 214.42,127.07 214.56,126.65 214.71,126.23 214.85,125.82 215.00,125.40 215.15,125.82 215.29,126.23 215.44,126.65 215.58,127.07 215.73,127.48 215.88,127.90 216.02,128.32 216.17,128.73 216.31,129.15 216.46,129.57 216.60,129.98 216.75,130.40 216.90,130.82 217.04,131.23 217.19,131.65 217.33,132.07 217.48,132.48 217.62,132.90 217.77,133.32 217.92,133.73 218.06,134.15 218.21,134.57 218.35,134.98 218.50,135.40 218.50,135.80" fill="#3d86c6" opacity="1"/><polygon points="218.50,135.80 218.50,135.40 218.63,135.36 218.77,135.29 218.90,135.21 219.03,135.10 219.17,134.98 219.30,134.85 219.43,134.71 219.57,134.55 219.70,134.39 219.83,134.22 219.97,134.03 220.10,133.84 220.23,133.65 220.37,133.44 220.50,133.23 220.63,133.00 220.77,132.78 220.90,132.54 221.03,132.30 221.17,132.05 221.30,131.80 221.43,131.54 221.57,131.27 221.70,131.00 221.83,131.27 221.97,131.54 222.10,131.80 222.23,132.05 222.37,132.30 222.50,132.54 222.63,132.78 222.77,133.00 222.90,133.23 223.03,133.44 223.17,133.65 223.30,133.84 223.43,134.03 223.57,134.22 223.70,134.39 223.83,134.55 223.97,134.71 224.10,134.85 224.23,134.98 224.37,135.10 224.50,135.21 224.63,135.29 224.77,135.36 224.90,135.40 224.90,135.80" fill="#40649a" opacity="0.87"/><polygon points="223.00,135.80 223.00,135.40 223.15,135.35 223.29,135.26 223.44,135.13 223.58,134.99 223.73,134.83 223.88,134.65 224.02,134.45 224.17,134.25 224.31,134.02 224.46,133.79 224.60,133.54 224.75,133.28 224.90,133.01 225.04,132.73 225.19,132.44 225.33,132.13 225.48,131.82 225.62,131.50 225.77,131.17 225.92,130.84 226.06,130.49 226.21,130.13 226.35,129.77 226.50,129.40 226.65,129.77 226.79,130.13 226.94,130.49 227.08,130.84 227.23,131.17 227.38,131.50 227.52,131.82 227.67,132.13 227.81,132.44 227.96,132.73 228.10,133.01 228.25,133.28 228.40,133.54 228.54,133.79 228.69,134.02 228.83,134.25 228.98,134.45 229.12,134.65 229.27,134.83 229.42,134.99 229.56,135.13 229.71,135.26 229.85,135.35 230.00,135.40 230.00,135.80" fill="#40649a" opacity="0.87"/><rect x="53.00" y="157.95" width="16.00" height="1.10" fill="#4aaad0" opacity="0.72"/><rect x="79.00" y="157.95" width="6.00" height="1.10" fill="#4aaad0" opacity="0.72"/><rect x="91.00" y="157.95" width="17.00" height="1.10" fill="#4aaad0" opacity="0.72"/><rect x="113.00" y="157.95" width="4.00" height="1.10" fill="#4aaad0" opacity="0.72"/><rect x="125.00" y="157.95" width="24.00" height="1.10" fill="#4aaad0" opacity="0.72"/><rect x="155.00" y="157.95" width="13.00" height="1.10" fill="#4aaad0" opacity="0.72"/><rect x="176.00" y="157.95" width="5.00" height="1.10" fill="#4aaad0" opacity="0.72"/><rect x="195.00" y="157.95" width="10.00" height="1.10" fill="#4aaad0" opacity="0.72"/><rect x="212.00" y="157.95" width="17.00" height="1.10" fill="#4aaad0" opacity="0.72"/><polygon points="51.00,158.90 51.00,158.50 51.21,158.48 51.42,158.46 51.62,158.42 51.83,158.38 52.04,158.33 52.25,158.28 52.46,158.22 52.67,158.15 52.88,158.09 53.08,158.02 53.29,157.94 53.50,157.86 53.71,157.78 53.92,157.70 54.12,157.61 54.33,157.52 54.54,157.43 54.75,157.33 54.96,157.23 55.17,157.13 55.38,157.03 55.58,156.92 55.79,156.81 56.00,156.70 56.21,156.81 56.42,156.92 56.62,157.03 56.83,157.13 57.04,157.23 57.25,157.33 57.46,157.43 57.67,157.52 57.88,157.61 58.08,157.70 58.29,157.78 58.50,157.86 58.71,157.94 58.92,158.02 59.12,158.09 59.33,158.15 59.54,158.22 59.75,158.28 59.96,158.33 60.17,158.38 60.38,158.42 60.58,158.46 60.79,158.48 61.00,158.50 61.00,158.90" fill="#4aaad0" opacity="0.87"/><polygon points="58.00,158.90 58.00,158.50 58.17,158.49 58.33,158.47 58.50,158.45 58.67,158.42 58.83,158.39 59.00,158.35 59.17,158.31 59.33,158.27 59.50,158.22 59.67,158.18 59.83,158.13 60.00,158.08 60.17,158.02 60.33,157.97 60.50,157.91 60.67,157.85 60.83,157.78 61.00,157.72 61.17,157.65 61.33,157.59 61.50,157.52 61.67,157.45 61.83,157.37 62.00,157.30 62.17,157.37 62.33,157.45 62.50,157.52 62.67,157.59 62.83,157.65 63.00,157.72 63.17,157.78 63.33,157.85 63.50,157.91 63.67,157.97 63.83,158.02 64.00,158.08 64.17,158.13 64.33,158.18 64.50,158.22 64.67,158.27 64.83,158.31 65.00,158.35 65.17,158.39 65.33,158.42 65.50,158.45 65.67,158.47 65.83,158.49 66.00,158.50 66.00,158.90" fill="#4aaad0" opacity="0.87"/><polygon points="77.50,158.90 77.50,158.50 77.69,158.48 77.88,158.46 78.06,158.42 78.25,158.38 78.44,158.33 78.62,158.28 78.81,158.22 79.00,158.15 79.19,158.09 79.38,158.02 79.56,157.94 79.75,157.86 79.94,157.78 80.12,157.70 80.31,157.61 80.50,157.52 80.69,157.43 80.88,157.33 81.06,157.23 81.25,157.13 81.44,157.03 81.62,156.92 81.81,156.81 82.00,156.70 82.19,156.81 82.38,156.92 82.56,157.03 82.75,157.13 82.94,157.23 83.12,157.33 83.31,157.43 83.50,157.52 83.69,157.61 83.88,157.70 84.06,157.78 84.25,157.86 84.44,157.94 84.62,158.02 84.81,158.09 85.00,158.15 85.19,158.22 85.38,158.28 85.56,158.33 85.75,158.38 85.94,158.42 86.12,158.46 86.31,158.48 86.50,158.50 86.50,158.90" fill="#4aaad0" opacity="0.87"/><polygon points="90.50,158.90 90.50,158.50 90.69,158.48 90.88,158.46 91.06,158.42 91.25,158.38 91.44,158.33 91.62,158.28 91.81,158.22 92.00,158.15 92.19,158.09 92.38,158.02 92.56,157.94 92.75,157.86 92.94,157.78 93.12,157.70 93.31,157.61 93.50,157.52 93.69,157.43 93.88,157.33 94.06,157.23 94.25,157.13 94.44,157.03 94.62,156.92 94.81,156.81 95.00,156.70 95.19,156.81 95.38,156.92 95.56,157.03 95.75,157.13 95.94,157.23 96.12,157.33 96.31,157.43 96.50,157.52 96.69,157.61 96.88,157.70 97.06,157.78 97.25,157.86 97.44,157.94 97.62,158.02 97.81,158.09 98.00,158.15 98.19,158.22 98.38,158.28 98.56,158.33 98.75,158.38 98.94,158.42 99.12,158.46 99.31,158.48 99.50,158.50 99.50,158.90" fill="#4aaad0" opacity="0.87"/><polygon points="98.50,158.90 98.50,158.50 98.69,158.48 98.88,158.46 99.06,158.42 99.25,158.38 99.44,158.33 99.62,158.28 99.81,158.22 100.00,158.15 100.19,158.09 100.38,158.02 100.56,157.94 100.75,157.86 100.94,157.78 101.12,157.70 101.31,157.61 101.50,157.52 101.69,157.43 101.88,157.33 102.06,157.23 102.25,157.13 102.44,157.03 102.62,156.92 102.81,156.81 103.00,156.70 103.19,156.81 103.38,156.92 103.56,157.03 103.75,157.13 103.94,157.23 104.12,157.33 104.31,157.43 104.50,157.52 104.69,157.61 104.88,157.70 105.06,157.78 105.25,157.86 105.44,157.94 105.62,158.02 105.81,158.09 106.00,158.15 106.19,158.22 106.38,158.28 106.56,158.33 106.75,158.38 106.94,158.42 107.12,158.46 107.31,158.48 107.50,158.50 107.50,158.90" fill="#4aaad0" opacity="0.87"/><polygon points="110.50,158.90 110.50,158.50 110.69,158.48 110.88,158.46 111.06,158.42 111.25,158.38 111.44,158.33 111.62,158.28 111.81,158.22 112.00,158.15 112.19,158.09 112.38,158.02 112.56,157.94 112.75,157.86 112.94,157.78 113.12,157.70 113.31,157.61 113.50,157.52 113.69,157.43 113.88,157.33 114.06,157.23 114.25,157.13 114.44,157.03 114.62,156.92 114.81,156.81 115.00,156.70 115.19,156.81 115.38,156.92 115.56,157.03 115.75,157.13 115.94,157.23 116.12,157.33 116.31,157.43 116.50,157.52 116.69,157.61 116.88,157.70 117.06,157.78 117.25,157.86 117.44,157.94 117.62,158.02 117.81,158.09 118.00,158.15 118.19,158.22 118.38,158.28 118.56,158.33 118.75,158.38 118.94,158.42 119.12,158.46 119.31,158.48 119.50,158.50 119.50,158.90" fill="#4aaad0" opacity="0.87"/><polygon points="129.00,158.90 129.00,158.50 129.17,158.49 129.33,158.46 129.50,158.43 129.67,158.40 129.83,158.36 130.00,158.31 130.17,158.26 130.33,158.21 130.50,158.16 130.67,158.10 130.83,158.03 131.00,157.97 131.17,157.90 131.33,157.83 131.50,157.76 131.67,157.68 131.83,157.61 132.00,157.53 132.17,157.44 132.33,157.36 132.50,157.27 132.67,157.18 132.83,157.09 133.00,157.00 133.17,157.09 133.33,157.18 133.50,157.27 133.67,157.36 133.83,157.44 134.00,157.53 134.17,157.61 134.33,157.68 134.50,157.76 134.67,157.83 134.83,157.90 135.00,157.97 135.17,158.03 135.33,158.10 135.50,158.16 135.67,158.21 135.83,158.26 136.00,158.31 136.17,158.36 136.33,158.40 136.50,158.43 136.67,158.46 136.83,158.49 137.00,158.50 137.00,158.90" fill="#4aaad0" opacity="0.87"/><polygon points="134.00,158.90 134.00,158.50 134.17,158.48 134.33,158.45 134.50,158.41 134.67,158.36 134.83,158.31 135.00,158.25 135.17,158.18 135.33,158.12 135.50,158.04 135.67,157.96 135.83,157.88 136.00,157.79 136.17,157.70 136.33,157.61 136.50,157.51 136.67,157.41 136.83,157.31 137.00,157.20 137.17,157.09 137.33,156.98 137.50,156.86 137.67,156.74 137.83,156.62 138.00,156.50 138.17,156.62 138.33,156.74 138.50,156.86 138.67,156.98 138.83,157.09 139.00,157.20 139.17,157.31 139.33,157.41 139.50,157.51 139.67,157.61 139.83,157.70 140.00,157.79 140.17,157.88 140.33,157.96 140.50,158.04 140.67,158.12 140.83,158.18 141.00,158.25 141.17,158.31 141.33,158.36 141.50,158.41 141.67,158.45 141.83,158.48 142.00,158.50 142.00,158.90" fill="#4aaad0" opacity="0.87"/><polygon points="140.00,158.90 140.00,158.50 140.18,158.46 140.35,158.40 140.53,158.31 140.70,158.21 140.88,158.10 141.05,157.97 141.22,157.84 141.40,157.69 141.57,157.54 141.75,157.37 141.93,157.20 142.10,157.02 142.28,156.83 142.45,156.63 142.62,156.42 142.80,156.21 142.97,156.00 143.15,155.77 143.32,155.54 143.50,155.30 143.68,155.06 143.85,154.81 144.03,154.56 144.20,154.30 144.38,154.56 144.55,154.81 144.72,155.06 144.90,155.30 145.07,155.54 145.25,155.77 145.43,156.00 145.60,156.21 145.78,156.42 145.95,156.63 146.12,156.83 146.30,157.02 146.47,157.20 146.65,157.37 146.82,157.54 147.00,157.69 147.18,157.84 147.35,157.97 147.53,158.10 147.70,158.21 147.88,158.31 148.05,158.40 148.22,158.46 148.40,158.50 148.40,158.90" fill="#4aaad0" opacity="0.87"/><polygon points="153.50,158.90 153.50,158.50 153.69,158.48 153.88,158.46 154.06,158.42 154.25,158.38 154.44,158.33 154.62,158.28 154.81,158.22 155.00,158.15 155.19,158.09 155.38,158.02 155.56,157.94 155.75,157.86 155.94,157.78 156.12,157.70 156.31,157.61 156.50,157.52 156.69,157.43 156.88,157.33 157.06,157.23 157.25,157.13 157.44,157.03 157.62,156.92 157.81,156.81 158.00,156.70 158.19,156.81 158.38,156.92 158.56,157.03 158.75,157.13 158.94,157.23 159.12,157.33 159.31,157.43 159.50,157.52 159.69,157.61 159.88,157.70 160.06,157.78 160.25,157.86 160.44,157.94 160.62,158.02 160.81,158.09 161.00,158.15 161.19,158.22 161.38,158.28 161.56,158.33 161.75,158.38 161.94,158.42 162.12,158.46 162.31,158.48 162.50,158.50 162.50,158.90" fill="#4aaad0" opacity="0.87"/><polygon points="161.60,158.90 161.60,158.50 161.72,157.92 161.85,157.31 161.97,156.67 162.10,156.03 162.22,155.38 162.35,154.72 162.47,154.06 162.60,153.39 162.72,152.72 162.85,152.04 162.97,151.36 163.10,150.68 163.22,149.99 163.35,149.30 163.47,148.61 163.60,147.92 163.72,147.22 163.85,146.52 163.97,145.82 164.10,145.12 164.22,144.42 164.35,143.71 164.47,143.01 164.60,142.30 164.72,143.01 164.85,143.71 164.97,144.42 165.10,145.12 165.22,145.82 165.35,146.52 165.47,147.22 165.60,147.92 165.72,148.61 165.85,149.30 165.97,149.99 166.10,150.68 166.22,151.36 166.35,152.04 166.47,152.72 166.60,153.39 166.72,154.06 166.85,154.72 166.97,155.38 167.10,156.03 167.22,156.67 167.35,157.31 167.47,157.92 167.60,158.50 167.60,158.90" fill="#3fbbe6" opacity="1"/><polygon points="195.00,158.90 195.00,158.50 195.21,158.49 195.42,158.47 195.62,158.45 195.83,158.42 196.04,158.39 196.25,158.35 196.46,158.31 196.67,158.27 196.88,158.22 197.08,158.18 197.29,158.13 197.50,158.08 197.71,158.02 197.92,157.97 198.12,157.91 198.33,157.85 198.54,157.78 198.75,157.72 198.96,157.65 199.17,157.59 199.38,157.52 199.58,157.45 199.79,157.37 200.00,157.30 200.21,157.37 200.42,157.45 200.62,157.52 200.83,157.59 201.04,157.65 201.25,157.72 201.46,157.78 201.67,157.85 201.88,157.91 202.08,157.97 202.29,158.02 202.50,158.08 202.71,158.13 202.92,158.18 203.12,158.22 203.33,158.27 203.54,158.31 203.75,158.35 203.96,158.39 204.17,158.42 204.38,158.45 204.58,158.47 204.79,158.49 205.00,158.50 205.00,158.90" fill="#4aaad0" opacity="0.87"/><polygon points="211.80,158.90 211.80,158.50 211.93,158.44 212.07,158.34 212.20,158.21 212.33,158.06 212.47,157.88 212.60,157.69 212.73,157.48 212.87,157.25 213.00,157.01 213.13,156.75 213.27,156.48 213.40,156.20 213.53,155.91 213.67,155.60 213.80,155.29 213.93,154.96 214.07,154.63 214.20,154.28 214.33,153.92 214.47,153.56 214.60,153.18 214.73,152.80 214.87,152.40 215.00,152.00 215.13,152.40 215.27,152.80 215.40,153.18 215.53,153.56 215.67,153.92 215.80,154.28 215.93,154.63 216.07,154.96 216.20,155.29 216.33,155.60 216.47,155.91 216.60,156.20 216.73,156.48 216.87,156.75 217.00,157.01 217.13,157.25 217.27,157.48 217.40,157.69 217.53,157.88 217.67,158.06 217.80,158.21 217.93,158.34 218.07,158.44 218.20,158.50 218.20,158.90" fill="#4aaad0" opacity="0.87"/><polygon points="220.80,158.90 220.80,158.50 220.93,158.46 221.07,158.38 221.20,158.29 221.33,158.17 221.47,158.04 221.60,157.90 221.73,157.74 221.87,157.58 222.00,157.40 222.13,157.21 222.27,157.01 222.40,156.80 222.53,156.59 222.67,156.36 222.80,156.13 222.93,155.89 223.07,155.64 223.20,155.38 223.33,155.12 223.47,154.85 223.60,154.57 223.73,154.29 223.87,154.00 224.00,153.70 224.13,154.00 224.27,154.29 224.40,154.57 224.53,154.85 224.67,155.12 224.80,155.38 224.93,155.64 225.07,155.89 225.20,156.13 225.33,156.36 225.47,156.59 225.60,156.80 225.73,157.01 225.87,157.21 226.00,157.40 226.13,157.58 226.27,157.74 226.40,157.90 226.53,158.04 226.67,158.17 226.80,158.29 226.93,158.38 227.07,158.46 227.20,158.50 227.20,158.90" fill="#4aaad0" opacity="0.87"/><text x="52.3" y="169.8" font-size="4.8" fill="#222" text-anchor="end" font-weight="normal" >ITGB2</text><line x1="53" y1="167.8" x2="227" y2="167.8" stroke="#8a8a8a" stroke-width="1" stroke-dasharray="1.4 0.7"/><rect x="61.2" y="165.2" width="1.6" height="5.2" fill="#111"/><rect x="94.8" y="165.2" width="1.6" height="5.2" fill="#111"/><rect x="126.2" y="165.2" width="1.6" height="5.2" fill="#111"/><rect x="130.2" y="165.2" width="1.6" height="5.2" fill="#111"/><rect x="226" y="165.8" width="2.6" height="4" rx="1" fill="#111"/><rect x="328.7" y="43" width="0.6" height="115" fill="#e6e6e6"/><text x="329.8" y="41.2" font-size="5.5" fill="#333" text-anchor="end" font-weight="normal" stroke="#333" stroke-width="0.12">chr3:</text><text x="313.6" y="59.1" font-size="8.4" fill="#4a68a8" text-anchor="end" font-weight="normal" stroke="#4a68a8" stroke-width="0.12">Kasumi-1</text><text x="326" y="46.7" font-size="4.8" fill="#4a68a8" text-anchor="end" font-weight="normal" >42</text><text x="325.3" y="63.1" font-size="4.8" fill="#333" text-anchor="end" font-weight="normal" >1</text><rect x="327.4" y="44.4" width="1.6" height="0.5" fill="#aaa"/><text x="315.2" y="81.7" font-size="8.4" fill="#c9343c" text-anchor="end" font-weight="normal" stroke="#c9343c" stroke-width="0.12">SKNO-1</text><text x="326" y="69.5" font-size="4.8" fill="#c9343c" text-anchor="end" font-weight="normal" >431</text><text x="325.3" y="85.9" font-size="4.8" fill="#333" text-anchor="end" font-weight="normal" >1</text><rect x="327.4" y="67.2" width="1.6" height="0.5" fill="#aaa"/><text x="314.4" y="103.9" font-size="8.4" fill="#2e3870" text-anchor="end" font-weight="normal" stroke="#2e3870" stroke-width="0.12">pz12</text><text x="326" y="93.3" font-size="4.8" fill="#2e3870" text-anchor="end" font-weight="normal" >50</text><text x="325.3" y="109.7" font-size="4.8" fill="#333" text-anchor="end" font-weight="normal" >1</text><rect x="327.4" y="91.0" width="1.6" height="0.5" fill="#aaa"/><text x="314.6" y="127.7" font-size="8.4" fill="#4a88c2" text-anchor="end" font-weight="normal" stroke="#4a88c2" stroke-width="0.12">pz186</text><text x="326" y="116.3" font-size="4.8" fill="#4a88c2" text-anchor="end" font-weight="normal" >97</text><text x="325.3" y="132.7" font-size="4.8" fill="#333" text-anchor="end" font-weight="normal" >1</text><rect x="327.4" y="114.0" width="1.6" height="0.5" fill="#aaa"/><text x="314.6" y="150.3" font-size="8.4" fill="#4eb2d8" text-anchor="end" font-weight="normal" stroke="#4eb2d8" stroke-width="0.12">pz229</text><text x="326" y="139.60000000000002" font-size="4.8" fill="#4eb2d8" text-anchor="end" font-weight="normal" >52</text><text x="325.3" y="156.0" font-size="4.8" fill="#333" text-anchor="end" font-weight="normal" >1</text><rect x="327.4" y="137.3" width="1.6" height="0.5" fill="#aaa"/><rect x="327.00" y="63.25" width="12.00" height="1.10" fill="#3b4c7c" opacity="0.72"/><rect x="367.00" y="63.25" width="19.00" height="1.10" fill="#3b4c7c" opacity="0.72"/><rect x="402.00" y="63.25" width="14.00" height="1.10" fill="#3b4c7c" opacity="0.72"/><rect x="438.60" y="63.25" width="21.40" height="1.10" fill="#3b4c7c" opacity="0.72"/><rect x="475.60" y="63.25" width="9.40" height="1.10" fill="#3b4c7c" opacity="0.72"/><polygon points="371.60,64.20 371.60,63.80 371.79,63.09 371.98,62.38 372.17,61.68 372.37,60.97 372.56,60.26 372.75,59.55 372.94,58.84 373.13,58.13 373.32,57.42 373.52,56.72 373.71,56.01 373.90,55.30 374.09,54.59 374.28,53.88 374.47,53.18 374.67,52.47 374.86,51.76 375.05,51.05 375.24,50.34 375.43,49.63 375.62,48.93 375.82,48.22 376.01,47.51 376.20,46.80 376.39,47.51 376.58,48.22 376.77,48.92 376.97,49.63 377.16,50.34 377.35,51.05 377.54,51.76 377.73,52.47 377.92,53.17 378.12,53.88 378.31,54.59 378.50,55.30 378.69,56.01 378.88,56.72 379.07,57.42 379.27,58.13 379.46,58.84 379.65,59.55 379.84,60.26 380.03,60.97 380.22,61.67 380.42,62.38 380.61,63.09 380.80,63.80 380.80,64.20" fill="#2f5fae" opacity="1"/><polygon points="402.00,64.20 402.00,63.80 402.12,63.79 402.25,63.78 402.38,63.76 402.50,63.73 402.62,63.70 402.75,63.67 402.88,63.64 403.00,63.61 403.12,63.57 403.25,63.53 403.38,63.49 403.50,63.45 403.62,63.40 403.75,63.35 403.88,63.31 404.00,63.26 404.12,63.20 404.25,63.15 404.38,63.10 404.50,63.04 404.62,62.98 404.75,62.92 404.88,62.86 405.00,62.80 405.12,62.86 405.25,62.92 405.38,62.98 405.50,63.04 405.62,63.10 405.75,63.15 405.88,63.20 406.00,63.26 406.12,63.31 406.25,63.35 406.38,63.40 406.50,63.45 406.62,63.49 406.75,63.53 406.88,63.57 407.00,63.61 407.12,63.64 407.25,63.67 407.38,63.70 407.50,63.73 407.62,63.76 407.75,63.78 407.88,63.79 408.00,63.80 408.00,64.20" fill="#3b4c7c" opacity="0.87"/><polygon points="441.00,64.20 441.00,63.80 441.21,63.79 441.42,63.78 441.62,63.76 441.83,63.73 442.04,63.70 442.25,63.67 442.46,63.64 442.67,63.61 442.88,63.57 443.08,63.53 443.29,63.49 443.50,63.45 443.71,63.40 443.92,63.35 444.12,63.31 444.33,63.26 444.54,63.20 444.75,63.15 444.96,63.10 445.17,63.04 445.38,62.98 445.58,62.92 445.79,62.86 446.00,62.80 446.21,62.86 446.42,62.92 446.62,62.98 446.83,63.04 447.04,63.10 447.25,63.15 447.46,63.20 447.67,63.26 447.88,63.31 448.08,63.35 448.29,63.40 448.50,63.45 448.71,63.49 448.92,63.53 449.12,63.57 449.33,63.61 449.54,63.64 449.75,63.67 449.96,63.70 450.17,63.73 450.38,63.76 450.58,63.78 450.79,63.79 451.00,63.80 451.00,64.20" fill="#3b4c7c" opacity="0.87"/><polygon points="447.00,64.20 447.00,63.80 447.21,63.79 447.42,63.78 447.62,63.76 447.83,63.73 448.04,63.70 448.25,63.67 448.46,63.64 448.67,63.61 448.88,63.57 449.08,63.53 449.29,63.49 449.50,63.45 449.71,63.40 449.92,63.35 450.12,63.31 450.33,63.26 450.54,63.20 450.75,63.15 450.96,63.10 451.17,63.04 451.38,62.98 451.58,62.92 451.79,62.86 452.00,62.80 452.21,62.86 452.42,62.92 452.62,62.98 452.83,63.04 453.04,63.10 453.25,63.15 453.46,63.20 453.67,63.26 453.88,63.31 454.08,63.35 454.29,63.40 454.50,63.45 454.71,63.49 454.92,63.53 455.12,63.57 455.33,63.61 455.54,63.64 455.75,63.67 455.96,63.70 456.17,63.73 456.38,63.76 456.58,63.78 456.79,63.79 457.00,63.80 457.00,64.20" fill="#3b4c7c" opacity="0.87"/><polygon points="476.00,64.20 476.00,63.80 476.12,63.79 476.25,63.76 476.38,63.73 476.50,63.70 476.62,63.66 476.75,63.61 476.88,63.56 477.00,63.51 477.12,63.46 477.25,63.40 477.38,63.33 477.50,63.27 477.62,63.20 477.75,63.13 477.88,63.06 478.00,62.98 478.12,62.91 478.25,62.83 478.38,62.74 478.50,62.66 478.62,62.57 478.75,62.48 478.88,62.39 479.00,62.30 479.12,62.39 479.25,62.48 479.38,62.57 479.50,62.66 479.62,62.74 479.75,62.83 479.88,62.91 480.00,62.98 480.12,63.06 480.25,63.13 480.38,63.20 480.50,63.27 480.62,63.33 480.75,63.40 480.88,63.46 481.00,63.51 481.12,63.56 481.25,63.61 481.38,63.66 481.50,63.70 481.62,63.73 481.75,63.76 481.88,63.79 482.00,63.80 482.00,64.20" fill="#3b4c7c" opacity="0.87"/><rect x="330.00" y="86.30" width="12.00" height="1.00" fill="#e04a4a" opacity="0.45"/><rect x="345.00" y="86.30" width="46.00" height="1.00" fill="#e04a4a" opacity="0.45"/><rect x="396.00" y="86.30" width="27.70" height="1.00" fill="#e04a4a" opacity="0.45"/><rect x="427.00" y="86.30" width="25.00" height="1.00" fill="#e04a4a" opacity="0.45"/><rect x="462.00" y="86.30" width="8.00" height="1.00" fill="#e04a4a" opacity="0.45"/><rect x="473.50" y="86.30" width="21.10" height="1.00" fill="#e04a4a" opacity="0.45"/><rect x="500.00" y="86.30" width="15.80" height="1.00" fill="#e04a4a" opacity="0.45"/><polygon points="367.10,87.20 367.10,86.80 367.41,86.75 367.73,86.60 368.04,86.34 368.35,86.00 368.66,85.56 368.98,85.04 369.29,84.45 369.60,83.80 369.91,83.10 370.23,82.35 370.54,81.58 370.85,80.80 371.16,80.02 371.48,79.25 371.79,78.50 372.10,77.80 372.41,77.15 372.73,76.56 373.04,76.04 373.35,75.60 373.66,75.26 373.98,75.00 374.29,74.85 374.60,74.80 374.91,74.85 375.23,75.00 375.54,75.26 375.85,75.60 376.16,76.04 376.48,76.56 376.79,77.15 377.10,77.80 377.41,78.50 377.73,79.25 378.04,80.02 378.35,80.80 378.66,81.58 378.98,82.35 379.29,83.10 379.60,83.80 379.91,84.45 380.23,85.04 380.54,85.56 380.85,86.00 381.16,86.34 381.48,86.60 381.79,86.75 382.10,86.80 382.10,87.20" fill="#e3262e" opacity="1"/><polygon points="371.40,87.20 371.40,86.80 371.53,86.10 371.67,85.40 371.80,84.70 371.93,84.00 372.07,83.30 372.20,82.60 372.33,81.90 372.47,81.20 372.60,80.50 372.73,79.80 372.87,79.10 373.00,78.40 373.13,77.70 373.27,77.00 373.40,76.30 373.53,75.60 373.67,74.90 373.80,74.20 373.93,73.50 374.07,72.80 374.20,72.10 374.33,71.40 374.47,70.70 374.60,70.00 374.73,70.70 374.87,71.40 375.00,72.10 375.13,72.80 375.27,73.50 375.40,74.20 375.53,74.90 375.67,75.60 375.80,76.30 375.93,77.00 376.07,77.70 376.20,78.40 376.33,79.10 376.47,79.80 376.60,80.50 376.73,81.20 376.87,81.90 377.00,82.60 377.13,83.30 377.27,84.00 377.40,84.70 377.53,85.40 377.67,86.10 377.80,86.80 377.80,87.20" fill="#e3262e" opacity="1"/><rect x="330.00" y="109.95" width="10.00" height="1.10" fill="#2a3672" opacity="0.72"/><rect x="351.00" y="109.95" width="8.50" height="1.10" fill="#2a3672" opacity="0.72"/><rect x="367.00" y="109.95" width="22.00" height="1.10" fill="#2a3672" opacity="0.72"/><rect x="397.00" y="109.95" width="9.50" height="1.10" fill="#2a3672" opacity="0.72"/><rect x="413.00" y="109.95" width="6.50" height="1.10" fill="#2a3672" opacity="0.72"/><rect x="441.70" y="109.95" width="8.30" height="1.10" fill="#2a3672" opacity="0.72"/><rect x="467.00" y="109.95" width="20.00" height="1.10" fill="#2a3672" opacity="0.72"/><rect x="489.00" y="109.95" width="7.00" height="1.10" fill="#2a3672" opacity="0.72"/><rect x="514.70" y="109.95" width="2.10" height="1.10" fill="#2a3672" opacity="0.72"/><polygon points="366.30,110.90 366.30,110.50 366.68,110.45 367.05,110.29 367.43,110.02 367.80,109.66 368.18,109.21 368.55,108.67 368.93,108.05 369.30,107.38 369.68,106.64 370.05,105.87 370.43,105.07 370.80,104.25 371.18,103.43 371.55,102.63 371.93,101.86 372.30,101.12 372.68,100.45 373.05,99.83 373.43,99.29 373.80,98.84 374.18,98.48 374.55,98.21 374.93,98.05 375.30,98.00 375.68,98.05 376.05,98.21 376.43,98.48 376.80,98.84 377.18,99.29 377.55,99.83 377.93,100.45 378.30,101.12 378.68,101.86 379.05,102.63 379.43,103.43 379.80,104.25 380.18,105.07 380.55,105.87 380.93,106.64 381.30,107.38 381.68,108.05 382.05,108.67 382.43,109.21 382.80,109.66 383.18,110.02 383.55,110.29 383.93,110.45 384.30,110.50 384.30,110.90" fill="#1f3a8e" opacity="1"/><polygon points="371.70,110.90 371.70,110.50 371.85,109.82 372.00,109.14 372.15,108.46 372.30,107.78 372.45,107.10 372.60,106.43 372.75,105.75 372.90,105.07 373.05,104.39 373.20,103.71 373.35,103.03 373.50,102.35 373.65,101.67 373.80,100.99 373.95,100.31 374.10,99.63 374.25,98.95 374.40,98.28 374.55,97.60 374.70,96.92 374.85,96.24 375.00,95.56 375.15,94.88 375.30,94.20 375.45,94.88 375.60,95.56 375.75,96.24 375.90,96.92 376.05,97.60 376.20,98.27 376.35,98.95 376.50,99.63 376.65,100.31 376.80,100.99 376.95,101.67 377.10,102.35 377.25,103.03 377.40,103.71 377.55,104.39 377.70,105.07 377.85,105.75 378.00,106.42 378.15,107.10 378.30,107.78 378.45,108.46 378.60,109.14 378.75,109.82 378.90,110.50 378.90,110.90" fill="#1f3a8e" opacity="1"/><polygon points="375.00,110.90 375.00,110.50 375.29,110.45 375.58,110.38 375.88,110.28 376.17,110.17 376.46,110.06 376.75,109.93 377.04,109.79 377.33,109.64 377.62,109.49 377.92,109.33 378.21,109.16 378.50,108.98 378.79,108.80 379.08,108.62 379.38,108.43 379.67,108.23 379.96,108.03 380.25,107.83 380.54,107.62 380.83,107.40 381.12,107.18 381.42,106.96 381.71,106.73 382.00,106.50 382.29,106.73 382.58,106.96 382.88,107.18 383.17,107.40 383.46,107.62 383.75,107.83 384.04,108.03 384.33,108.23 384.62,108.43 384.92,108.62 385.21,108.80 385.50,108.98 385.79,109.16 386.08,109.33 386.38,109.49 386.67,109.64 386.96,109.79 387.25,109.93 387.54,110.06 387.83,110.17 388.12,110.28 388.42,110.38 388.71,110.45 389.00,110.50 389.00,110.90" fill="#2a3672" opacity="0.87"/><polygon points="397.70,110.90 397.70,110.50 397.87,110.49 398.03,110.46 398.20,110.43 398.37,110.40 398.53,110.36 398.70,110.31 398.87,110.26 399.03,110.21 399.20,110.16 399.37,110.10 399.53,110.03 399.70,109.97 399.87,109.90 400.03,109.83 400.20,109.76 400.37,109.68 400.53,109.61 400.70,109.53 400.87,109.44 401.03,109.36 401.20,109.27 401.37,109.18 401.53,109.09 401.70,109.00 401.87,109.09 402.03,109.18 402.20,109.27 402.37,109.36 402.53,109.44 402.70,109.53 402.87,109.61 403.03,109.68 403.20,109.76 403.37,109.83 403.53,109.90 403.70,109.97 403.87,110.03 404.03,110.10 404.20,110.16 404.37,110.21 404.53,110.26 404.70,110.31 404.87,110.36 405.03,110.40 405.20,110.43 405.37,110.46 405.53,110.49 405.70,110.50 405.70,110.90" fill="#2a3672" opacity="0.87"/><polygon points="442.00,110.90 442.00,110.50 442.17,110.49 442.33,110.46 442.50,110.43 442.67,110.40 442.83,110.36 443.00,110.31 443.17,110.26 443.33,110.21 443.50,110.16 443.67,110.10 443.83,110.03 444.00,109.97 444.17,109.90 444.33,109.83 444.50,109.76 444.67,109.68 444.83,109.61 445.00,109.53 445.17,109.44 445.33,109.36 445.50,109.27 445.67,109.18 445.83,109.09 446.00,109.00 446.17,109.09 446.33,109.18 446.50,109.27 446.67,109.36 446.83,109.44 447.00,109.53 447.17,109.61 447.33,109.68 447.50,109.76 447.67,109.83 447.83,109.90 448.00,109.97 448.17,110.03 448.33,110.10 448.50,110.16 448.67,110.21 448.83,110.26 449.00,110.31 449.17,110.36 449.33,110.40 449.50,110.43 449.67,110.46 449.83,110.49 450.00,110.50 450.00,110.90" fill="#2a3672" opacity="0.87"/><rect x="330.00" y="132.95" width="9.00" height="1.10" fill="#40649a" opacity="0.72"/><rect x="366.00" y="132.95" width="20.00" height="1.10" fill="#40649a" opacity="0.72"/><rect x="421.60" y="132.95" width="7.40" height="1.10" fill="#40649a" opacity="0.72"/><rect x="432.00" y="132.95" width="35.00" height="1.10" fill="#40649a" opacity="0.72"/><rect x="477.70" y="132.95" width="5.30" height="1.10" fill="#40649a" opacity="0.72"/><rect x="514.70" y="132.95" width="2.10" height="1.10" fill="#40649a" opacity="0.72"/><polygon points="364.30,133.90 364.30,133.50 364.74,133.46 365.18,133.32 365.61,133.10 366.05,132.80 366.49,132.42 366.93,131.96 367.36,131.45 367.80,130.88 368.24,130.26 368.68,129.61 369.11,128.94 369.55,128.25 369.99,127.56 370.43,126.89 370.86,126.24 371.30,125.62 371.74,125.05 372.18,124.54 372.61,124.08 373.05,123.70 373.49,123.40 373.93,123.18 374.36,123.04 374.80,123.00 375.24,123.04 375.68,123.18 376.11,123.40 376.55,123.70 376.99,124.08 377.43,124.54 377.86,125.05 378.30,125.62 378.74,126.24 379.18,126.89 379.61,127.56 380.05,128.25 380.49,128.94 380.93,129.61 381.36,130.26 381.80,130.88 382.24,131.45 382.68,131.96 383.11,132.42 383.55,132.80 383.99,133.10 384.43,133.32 384.86,133.46 385.30,133.50 385.30,133.90" fill="#3d86c6" opacity="1"/><polygon points="371.00,133.90 371.00,133.50 371.16,132.84 371.32,132.18 371.48,131.52 371.63,130.87 371.79,130.21 371.95,129.55 372.11,128.89 372.27,128.23 372.43,127.58 372.58,126.92 372.74,126.26 372.90,125.60 373.06,124.94 373.22,124.28 373.38,123.63 373.53,122.97 373.69,122.31 373.85,121.65 374.01,120.99 374.17,120.33 374.32,119.68 374.48,119.02 374.64,118.36 374.80,117.70 374.96,118.36 375.12,119.02 375.27,119.67 375.43,120.33 375.59,120.99 375.75,121.65 375.91,122.31 376.07,122.97 376.23,123.63 376.38,124.28 376.54,124.94 376.70,125.60 376.86,126.26 377.02,126.92 377.18,127.58 377.33,128.23 377.49,128.89 377.65,129.55 377.81,130.21 377.97,130.87 378.12,131.52 378.28,132.18 378.44,132.84 378.60,133.50 378.60,133.90" fill="#3d86c6" opacity="1"/><polygon points="441.00,133.90 441.00,133.50 441.21,133.49 441.42,133.46 441.62,133.43 441.83,133.40 442.04,133.36 442.25,133.31 442.46,133.26 442.67,133.21 442.88,133.16 443.08,133.10 443.29,133.03 443.50,132.97 443.71,132.90 443.92,132.83 444.12,132.76 444.33,132.68 444.54,132.61 444.75,132.53 444.96,132.44 445.17,132.36 445.38,132.27 445.58,132.18 445.79,132.09 446.00,132.00 446.21,132.09 446.42,132.18 446.62,132.27 446.83,132.36 447.04,132.44 447.25,132.53 447.46,132.61 447.67,132.68 447.88,132.76 448.08,132.83 448.29,132.90 448.50,132.97 448.71,133.03 448.92,133.10 449.12,133.16 449.33,133.21 449.54,133.26 449.75,133.31 449.96,133.36 450.17,133.40 450.38,133.43 450.58,133.46 450.79,133.49 451.00,133.50 451.00,133.90" fill="#40649a" opacity="0.87"/><rect x="336.00" y="156.25" width="8.00" height="1.10" fill="#4aaad0" opacity="0.72"/><rect x="350.00" y="156.25" width="3.60" height="1.10" fill="#4aaad0" opacity="0.72"/><rect x="358.50" y="156.25" width="37.50" height="1.10" fill="#4aaad0" opacity="0.72"/><rect x="437.50" y="156.25" width="12.50" height="1.10" fill="#4aaad0" opacity="0.72"/><rect x="470.00" y="156.25" width="5.60" height="1.10" fill="#4aaad0" opacity="0.72"/><rect x="483.00" y="156.25" width="10.60" height="1.10" fill="#4aaad0" opacity="0.72"/><rect x="507.00" y="156.25" width="8.80" height="1.10" fill="#4aaad0" opacity="0.72"/><polygon points="364.80,157.20 364.80,156.80 365.22,156.76 365.63,156.62 366.05,156.40 366.47,156.10 366.88,155.72 367.30,155.26 367.72,154.75 368.13,154.18 368.55,153.56 368.97,152.91 369.38,152.24 369.80,151.55 370.22,150.86 370.63,150.19 371.05,149.54 371.47,148.92 371.88,148.35 372.30,147.84 372.72,147.38 373.13,147.00 373.55,146.70 373.97,146.48 374.38,146.34 374.80,146.30 375.22,146.34 375.63,146.48 376.05,146.70 376.47,147.00 376.88,147.38 377.30,147.84 377.72,148.35 378.13,148.92 378.55,149.54 378.97,150.19 379.38,150.86 379.80,151.55 380.22,152.24 380.63,152.91 381.05,153.56 381.47,154.18 381.88,154.75 382.30,155.26 382.72,155.72 383.13,156.10 383.55,156.40 383.97,156.62 384.38,156.76 384.80,156.80 384.80,157.20" fill="#3fbbe6" opacity="1"/><polygon points="371.40,157.20 371.40,156.80 371.54,156.13 371.68,155.47 371.83,154.80 371.97,154.13 372.11,153.47 372.25,152.80 372.39,152.13 372.53,151.47 372.68,150.80 372.82,150.13 372.96,149.47 373.10,148.80 373.24,148.13 373.38,147.47 373.53,146.80 373.67,146.13 373.81,145.47 373.95,144.80 374.09,144.13 374.23,143.47 374.38,142.80 374.52,142.13 374.66,141.47 374.80,140.80 374.94,141.47 375.08,142.13 375.23,142.80 375.37,143.47 375.51,144.13 375.65,144.80 375.79,145.47 375.93,146.13 376.08,146.80 376.22,147.47 376.36,148.13 376.50,148.80 376.64,149.47 376.78,150.13 376.93,150.80 377.07,151.47 377.21,152.13 377.35,152.80 377.49,153.47 377.63,154.13 377.78,154.80 377.92,155.47 378.06,156.13 378.20,156.80 378.20,157.20" fill="#3fbbe6" opacity="1"/><polygon points="361.00,157.20 361.00,156.80 361.21,156.79 361.42,156.76 361.62,156.73 361.83,156.70 362.04,156.66 362.25,156.61 362.46,156.56 362.67,156.51 362.88,156.46 363.08,156.40 363.29,156.33 363.50,156.27 363.71,156.20 363.92,156.13 364.12,156.06 364.33,155.98 364.54,155.91 364.75,155.83 364.96,155.74 365.17,155.66 365.38,155.57 365.58,155.48 365.79,155.39 366.00,155.30 366.21,155.39 366.42,155.48 366.62,155.57 366.83,155.66 367.04,155.74 367.25,155.83 367.46,155.91 367.67,155.98 367.88,156.06 368.08,156.13 368.29,156.20 368.50,156.27 368.71,156.33 368.92,156.40 369.12,156.46 369.33,156.51 369.54,156.56 369.75,156.61 369.96,156.66 370.17,156.70 370.38,156.73 370.58,156.76 370.79,156.79 371.00,156.80 371.00,157.20" fill="#4aaad0" opacity="0.87"/><polygon points="374.00,157.20 374.00,156.80 374.25,156.77 374.50,156.73 374.75,156.67 375.00,156.60 375.25,156.51 375.50,156.43 375.75,156.33 376.00,156.22 376.25,156.11 376.50,155.99 376.75,155.87 377.00,155.74 377.25,155.60 377.50,155.46 377.75,155.32 378.00,155.17 378.25,155.01 378.50,154.85 378.75,154.69 379.00,154.52 379.25,154.34 379.50,154.17 379.75,153.99 380.00,153.80 380.25,153.99 380.50,154.17 380.75,154.34 381.00,154.52 381.25,154.69 381.50,154.85 381.75,155.01 382.00,155.17 382.25,155.32 382.50,155.46 382.75,155.60 383.00,155.74 383.25,155.87 383.50,155.99 383.75,156.11 384.00,156.22 384.25,156.33 384.50,156.43 384.75,156.51 385.00,156.60 385.25,156.67 385.50,156.73 385.75,156.77 386.00,156.80 386.00,157.20" fill="#4aaad0" opacity="0.87"/><text x="331" y="167.8" font-size="4.8" fill="#222" text-anchor="end" font-weight="normal" >BRPF1</text><rect x="333" y="164.0" width="12.5" height="3.2" fill="#111"/><rect x="330" y="165.2" width="3" height="0.8" fill="#888"/><rect x="333" y="163.2" width="2.6" height="5" fill="#111"/><text x="346" y="173.6" font-size="4.8" fill="#1a1f6a" text-anchor="start" font-weight="normal" >OGG1</text><line x1="361" y1="171.8" x2="484" y2="171.8" stroke="#5a5a9a" stroke-width="0.8" stroke-dasharray="1.2 0.8"/><rect x="361.3" y="170.0" width="19.5" height="3.6" fill="#1c2070"/><rect x="379.5" y="168.8" width="2.2" height="6" fill="#1c2070"/><rect x="389.9" y="168.8" width="2.2" height="6" fill="#1c2070"/><rect x="401.9" y="168.8" width="2.2" height="6" fill="#1c2070"/><rect x="444.9" y="168.8" width="2.2" height="6" fill="#1c2070"/><rect x="471.29999999999995" y="168.8" width="2.2" height="6" fill="#1c2070"/><rect x="474.5" y="168.8" width="2.2" height="6" fill="#1c2070"/><rect x="481" y="168.8" width="3.4" height="6" rx="1" fill="#1c2070"/><text x="483.2" y="168" font-size="5.5" fill="#1a1f6a" text-anchor="end" font-weight="normal" >CAMK1</text><line x1="486" y1="165.5" x2="515.8" y2="165.5" stroke="#5a5a9a" stroke-width="0.8" stroke-dasharray="1.2 0.8"/><rect x="486.1" y="162.6" width="1.8" height="6" fill="#1c2070"/><rect x="490.1" y="162.6" width="1.8" height="6" fill="#1c2070"/><rect x="515.2" y="163" width="0.8" height="5" fill="#777"/><text x="12.0" y="224" font-size="16.5" fill="#000" text-anchor="start" font-weight="bold" >B</text><defs>
<clipPath id="cR"><circle cx="77.2" cy="274.3" r="51.5"/></clipPath>
<clipPath id="cG"><circle cx="65" cy="303.5" r="42.5"/></clipPath>
<clipPath id="cY"><circle cx="95.3" cy="304.3" r="31.2"/></clipPath>
<clipPath id="cP"><circle cx="469" cy="277.7" r="31"/></clipPath>
</defs><circle cx="65" cy="303.5" r="42.5" fill="rgb(196,220,150)"/><circle cx="95.3" cy="304.3" r="31.2" fill="rgb(238,238,112)"/><g clip-path="url(#cG)"><circle cx="95.3" cy="304.3" r="31.2" fill="rgb(222,232,112)"/></g><circle cx="77.2" cy="274.3" r="51.5" fill="rgb(240,118,118)"/><g clip-path="url(#cR)"><circle cx="65" cy="303.5" r="42.5" fill="rgb(222,114,84)"/></g><g clip-path="url(#cR)"><circle cx="95.3" cy="304.3" r="31.2" fill="rgb(242,132,64)"/></g><g clip-path="url(#cR)"><g clip-path="url(#cG)"><circle cx="95.3" cy="304.3" r="31.2" fill="rgb(240,128,52)"/></g></g><text x="94.3" y="221.8" font-size="8.5" fill="#000" text-anchor="start" font-weight="normal" stroke="#000" stroke-width="0.1">pz186</text><text x="80" y="249.5" font-size="6.5" fill="#222" text-anchor="middle" font-weight="normal" >5816</text><text x="48.8" y="291" font-size="6.5" fill="#222" text-anchor="middle" font-weight="normal" >2961</text><text x="83" y="304.3" font-size="9.5" fill="#111" text-anchor="middle" font-weight="bold" >2898</text><text x="115.8" y="297.5" font-size="6.2" fill="#222" text-anchor="middle" font-weight="normal" >669</text><text x="116.8" y="317.2" font-size="6.2" fill="#222" text-anchor="middle" font-weight="normal" >682</text><text x="89.8" y="330.3" font-size="6.5" fill="#222" text-anchor="middle" font-weight="normal" >226</text><text x="59" y="337" font-size="6.5" fill="#222" text-anchor="middle" font-weight="normal" >2149</text><text x="119.5" y="330.8" font-size="8.3" fill="#000" text-anchor="start" font-weight="normal" stroke="#000" stroke-width="0.1">pz12</text><text x="23.2" y="352.5" font-size="8.5" fill="#000" text-anchor="start" font-weight="normal" stroke="#000" stroke-width="0.1">pz229</text><text x="157.5" y="223.6" font-size="16.5" fill="#000" text-anchor="start" font-weight="bold" >C</text><rect x="213.29999999999998" y="229" width="0.6" height="97" fill="#e6e6e6"/><text x="212.2" y="226.9" font-size="4.6" fill="#333" text-anchor="end" font-weight="normal" stroke="#333" stroke-width="0.1">chr11:</text><text x="199.9" y="245.20000000000002" font-size="8.5" fill="#2e3870" stroke="#2e3870" stroke-width="0.12" text-anchor="end">pz12<tspan font-size="5.5" dy="0.9">AE</tspan></text><text x="210.6" y="232.60000000000002" font-size="4.4" fill="#2e3870" text-anchor="end" font-weight="normal" >60</text><text x="210.8" y="251.4" font-size="4.4" fill="#333" text-anchor="end" font-weight="normal" >1</text><text x="199" y="269.2" font-size="8.5" fill="#4a88c2" stroke="#4a88c2" stroke-width="0.12" text-anchor="end">pz186<tspan font-size="5.5" dy="0.9">AE</tspan></text><text x="210.6" y="256.6" font-size="4.4" fill="#4a88c2" text-anchor="end" font-weight="normal" >60</text><text x="210.8" y="275.40000000000003" font-size="4.4" fill="#333" text-anchor="end" font-weight="normal" >1</text><text x="198.5" y="294.0" font-size="8.5" fill="#4eb2d8" stroke="#4eb2d8" stroke-width="0.12" text-anchor="end">pz229<tspan font-size="5.5" dy="0.9">AE</tspan></text><text x="210.6" y="281.40000000000003" font-size="4.4" fill="#4eb2d8" text-anchor="end" font-weight="normal" >60</text><text x="210.8" y="300.20000000000005" font-size="4.4" fill="#333" text-anchor="end" font-weight="normal" >1</text><text x="202.4" y="318.4" font-size="8.5" fill="#e6c46a" stroke="#e6c46a" stroke-width="0.12" text-anchor="end">pz12<tspan font-size="5.5" dy="0.9">ERG</tspan></text><text x="210.6" y="305.8" font-size="4.4" fill="#e6c46a" text-anchor="end" font-weight="normal" >60</text><text x="210.8" y="324.6" font-size="4.4" fill="#333" text-anchor="end" font-weight="normal" >1</text><rect x="215.40" y="251.25" width="2.60" height="1.10" fill="#2a3672" opacity="0.55"/><rect x="222.70" y="251.25" width="5.30" height="1.10" fill="#2a3672" opacity="0.55"/><rect x="235.40" y="251.25" width="7.30" height="1.10" fill="#2a3672" opacity="0.55"/><rect x="246.00" y="251.25" width="24.00" height="1.10" fill="#2a3672" opacity="0.55"/><rect x="292.00" y="251.25" width="5.40" height="1.10" fill="#2a3672" opacity="0.55"/><rect x="303.80" y="251.25" width="3.20" height="1.10" fill="#2a3672" opacity="0.55"/><rect x="310.00" y="251.25" width="2.00" height="1.10" fill="#2a3672" opacity="0.55"/><rect x="331.00" y="251.25" width="2.00" height="1.10" fill="#2a3672" opacity="0.55"/><rect x="346.00" y="251.25" width="52.00" height="1.10" fill="#2a3672" opacity="0.55"/><rect x="399.50" y="251.25" width="1.50" height="1.10" fill="#2a3672" opacity="0.55"/><polygon points="253.00,252.20 253.00,251.80 253.10,251.03 253.19,250.25 253.29,249.48 253.38,248.70 253.48,247.93 253.57,247.15 253.67,246.38 253.77,245.60 253.86,244.83 253.96,244.05 254.05,243.28 254.15,242.50 254.25,241.73 254.34,240.95 254.44,240.18 254.53,239.40 254.63,238.63 254.72,237.85 254.82,237.08 254.92,236.30 255.01,235.53 255.11,234.75 255.20,233.97 255.30,233.20 255.40,233.97 255.49,234.75 255.59,235.52 255.68,236.30 255.78,237.07 255.88,237.85 255.97,238.62 256.07,239.40 256.16,240.18 256.26,240.95 256.35,241.73 256.45,242.50 256.55,243.28 256.64,244.05 256.74,244.83 256.83,245.60 256.93,246.37 257.02,247.15 257.12,247.92 257.22,248.70 257.31,249.47 257.41,250.25 257.50,251.02 257.60,251.80 257.60,252.20" fill="#1f3a8e" opacity="1"/><polygon points="221.50,252.20 221.50,251.80 221.65,251.79 221.79,251.76 221.94,251.73 222.08,251.70 222.23,251.66 222.38,251.61 222.52,251.56 222.67,251.51 222.81,251.46 222.96,251.40 223.10,251.33 223.25,251.27 223.40,251.20 223.54,251.13 223.69,251.06 223.83,250.98 223.98,250.91 224.12,250.83 224.27,250.74 224.42,250.66 224.56,250.57 224.71,250.48 224.85,250.39 225.00,250.30 225.15,250.39 225.29,250.48 225.44,250.57 225.58,250.66 225.73,250.74 225.88,250.83 226.02,250.91 226.17,250.98 226.31,251.06 226.46,251.13 226.60,251.20 226.75,251.27 226.90,251.33 227.04,251.40 227.19,251.46 227.33,251.51 227.48,251.56 227.62,251.61 227.77,251.66 227.92,251.70 228.06,251.73 228.21,251.76 228.35,251.79 228.50,251.80 228.50,252.20" fill="#2a3672" opacity="0.7000000000000001"/><polygon points="235.50,252.20 235.50,251.80 235.65,251.79 235.79,251.76 235.94,251.73 236.08,251.70 236.23,251.66 236.38,251.61 236.52,251.56 236.67,251.51 236.81,251.46 236.96,251.40 237.10,251.33 237.25,251.27 237.40,251.20 237.54,251.13 237.69,251.06 237.83,250.98 237.98,250.91 238.12,250.83 238.27,250.74 238.42,250.66 238.56,250.57 238.71,250.48 238.85,250.39 239.00,250.30 239.15,250.39 239.29,250.48 239.44,250.57 239.58,250.66 239.73,250.74 239.88,250.83 240.02,250.91 240.17,250.98 240.31,251.06 240.46,251.13 240.60,251.20 240.75,251.27 240.90,251.33 241.04,251.40 241.19,251.46 241.33,251.51 241.48,251.56 241.62,251.61 241.77,251.66 241.92,251.70 242.06,251.73 242.21,251.76 242.35,251.79 242.50,251.80 242.50,252.20" fill="#2a3672" opacity="0.7000000000000001"/><polygon points="246.50,252.20 246.50,251.80 246.65,251.79 246.79,251.78 246.94,251.76 247.08,251.73 247.23,251.70 247.38,251.68 247.52,251.64 247.67,251.61 247.81,251.57 247.96,251.53 248.10,251.49 248.25,251.45 248.40,251.40 248.54,251.35 248.69,251.31 248.83,251.26 248.98,251.20 249.12,251.15 249.27,251.10 249.42,251.04 249.56,250.98 249.71,250.92 249.85,250.86 250.00,250.80 250.15,250.86 250.29,250.92 250.44,250.98 250.58,251.04 250.73,251.10 250.88,251.15 251.02,251.20 251.17,251.26 251.31,251.31 251.46,251.35 251.60,251.40 251.75,251.45 251.90,251.49 252.04,251.53 252.19,251.57 252.33,251.61 252.48,251.64 252.62,251.68 252.77,251.70 252.92,251.73 253.06,251.76 253.21,251.78 253.35,251.79 253.50,251.80 253.50,252.20" fill="#2a3672" opacity="0.7000000000000001"/><polygon points="258.50,252.20 258.50,251.80 258.65,251.79 258.79,251.78 258.94,251.76 259.08,251.73 259.23,251.70 259.38,251.68 259.52,251.64 259.67,251.61 259.81,251.57 259.96,251.53 260.10,251.49 260.25,251.45 260.40,251.40 260.54,251.35 260.69,251.31 260.83,251.26 260.98,251.20 261.12,251.15 261.27,251.10 261.42,251.04 261.56,250.98 261.71,250.92 261.85,250.86 262.00,250.80 262.15,250.86 262.29,250.92 262.44,250.98 262.58,251.04 262.73,251.10 262.88,251.15 263.02,251.20 263.17,251.26 263.31,251.31 263.46,251.35 263.60,251.40 263.75,251.45 263.90,251.49 264.04,251.53 264.19,251.57 264.33,251.61 264.48,251.64 264.62,251.68 264.77,251.70 264.92,251.73 265.06,251.76 265.21,251.78 265.35,251.79 265.50,251.80 265.50,252.20" fill="#2a3672" opacity="0.7000000000000001"/><polygon points="262.50,252.20 262.50,251.80 262.65,251.79 262.79,251.78 262.94,251.76 263.08,251.73 263.23,251.70 263.38,251.68 263.52,251.64 263.67,251.61 263.81,251.57 263.96,251.53 264.10,251.49 264.25,251.45 264.40,251.40 264.54,251.35 264.69,251.31 264.83,251.26 264.98,251.20 265.12,251.15 265.27,251.10 265.42,251.04 265.56,250.98 265.71,250.92 265.85,250.86 266.00,250.80 266.15,250.86 266.29,250.92 266.44,250.98 266.58,251.04 266.73,251.10 266.88,251.15 267.02,251.20 267.17,251.26 267.31,251.31 267.46,251.35 267.60,251.40 267.75,251.45 267.90,251.49 268.04,251.53 268.19,251.57 268.33,251.61 268.48,251.64 268.62,251.68 268.77,251.70 268.92,251.73 269.06,251.76 269.21,251.78 269.35,251.79 269.50,251.80 269.50,252.20" fill="#2a3672" opacity="0.7000000000000001"/><polygon points="291.50,252.20 291.50,251.80 291.65,251.79 291.79,251.76 291.94,251.73 292.08,251.70 292.23,251.66 292.38,251.61 292.52,251.56 292.67,251.51 292.81,251.46 292.96,251.40 293.10,251.33 293.25,251.27 293.40,251.20 293.54,251.13 293.69,251.06 293.83,250.98 293.98,250.91 294.12,250.83 294.27,250.74 294.42,250.66 294.56,250.57 294.71,250.48 294.85,250.39 295.00,250.30 295.15,250.39 295.29,250.48 295.44,250.57 295.58,250.66 295.73,250.74 295.88,250.83 296.02,250.91 296.17,250.98 296.31,251.06 296.46,251.13 296.60,251.20 296.75,251.27 296.90,251.33 297.04,251.40 297.19,251.46 297.33,251.51 297.48,251.56 297.62,251.61 297.77,251.66 297.92,251.70 298.06,251.73 298.21,251.76 298.35,251.79 298.50,251.80 298.50,252.20" fill="#2a3672" opacity="0.7000000000000001"/><polygon points="363.50,252.20 363.50,251.80 363.65,251.78 363.79,251.75 363.94,251.71 364.08,251.66 364.23,251.61 364.38,251.55 364.52,251.48 364.67,251.42 364.81,251.34 364.96,251.26 365.10,251.18 365.25,251.09 365.40,251.00 365.54,250.91 365.69,250.81 365.83,250.71 365.98,250.61 366.12,250.50 366.27,250.39 366.42,250.28 366.56,250.16 366.71,250.04 366.85,249.92 367.00,249.80 367.15,249.92 367.29,250.04 367.44,250.16 367.58,250.28 367.73,250.39 367.88,250.50 368.02,250.61 368.17,250.71 368.31,250.81 368.46,250.91 368.60,251.00 368.75,251.09 368.90,251.18 369.04,251.26 369.19,251.34 369.33,251.42 369.48,251.48 369.62,251.55 369.77,251.61 369.92,251.66 370.06,251.71 370.21,251.75 370.35,251.78 370.50,251.80 370.50,252.20" fill="#2a3672" opacity="0.7000000000000001"/><polygon points="372.00,252.20 372.00,251.80 372.17,251.79 372.33,251.76 372.50,251.73 372.67,251.70 372.83,251.66 373.00,251.61 373.17,251.56 373.33,251.51 373.50,251.46 373.67,251.40 373.83,251.33 374.00,251.27 374.17,251.20 374.33,251.13 374.50,251.06 374.67,250.98 374.83,250.91 375.00,250.83 375.17,250.74 375.33,250.66 375.50,250.57 375.67,250.48 375.83,250.39 376.00,250.30 376.17,250.39 376.33,250.48 376.50,250.57 376.67,250.66 376.83,250.74 377.00,250.83 377.17,250.91 377.33,250.98 377.50,251.06 377.67,251.13 377.83,251.20 378.00,251.27 378.17,251.33 378.33,251.40 378.50,251.46 378.67,251.51 378.83,251.56 379.00,251.61 379.17,251.66 379.33,251.70 379.50,251.73 379.67,251.76 379.83,251.79 380.00,251.80 380.00,252.20" fill="#2a3672" opacity="0.7000000000000001"/><polygon points="377.50,252.20 377.50,251.80 377.65,251.78 377.79,251.74 377.94,251.69 378.08,251.63 378.23,251.56 378.38,251.49 378.52,251.41 378.67,251.32 378.81,251.23 378.96,251.13 379.10,251.02 379.25,250.92 379.40,250.80 379.54,250.69 379.69,250.56 379.83,250.44 379.98,250.31 380.12,250.18 380.27,250.04 380.42,249.90 380.56,249.75 380.71,249.61 380.85,249.45 381.00,249.30 381.15,249.45 381.29,249.61 381.44,249.75 381.58,249.90 381.73,250.04 381.88,250.18 382.02,250.31 382.17,250.44 382.31,250.56 382.46,250.69 382.60,250.80 382.75,250.92 382.90,251.02 383.04,251.13 383.19,251.23 383.33,251.32 383.48,251.41 383.62,251.49 383.77,251.56 383.92,251.63 384.06,251.69 384.21,251.74 384.35,251.78 384.50,251.80 384.50,252.20" fill="#2a3672" opacity="0.7000000000000001"/><polygon points="383.00,252.20 383.00,251.80 383.15,251.77 383.29,251.70 383.44,251.62 383.58,251.53 383.73,251.42 383.88,251.30 384.02,251.17 384.17,251.03 384.31,250.88 384.46,250.72 384.60,250.56 384.75,250.39 384.90,250.21 385.04,250.02 385.19,249.82 385.33,249.62 385.48,249.42 385.62,249.20 385.77,248.98 385.92,248.76 386.06,248.53 386.21,248.29 386.35,248.05 386.50,247.80 386.65,248.05 386.79,248.29 386.94,248.53 387.08,248.76 387.23,248.98 387.38,249.20 387.52,249.42 387.67,249.62 387.81,249.82 387.96,250.02 388.10,250.21 388.25,250.39 388.40,250.56 388.54,250.72 388.69,250.88 388.83,251.03 388.98,251.17 389.12,251.30 389.27,251.42 389.42,251.53 389.56,251.62 389.71,251.70 389.85,251.77 390.00,251.80 390.00,252.20" fill="#2a3672" opacity="0.7000000000000001"/><polygon points="387.50,252.20 387.50,251.80 387.65,251.79 387.79,251.76 387.94,251.73 388.08,251.70 388.23,251.66 388.38,251.61 388.52,251.56 388.67,251.51 388.81,251.46 388.96,251.40 389.10,251.33 389.25,251.27 389.40,251.20 389.54,251.13 389.69,251.06 389.83,250.98 389.98,250.91 390.12,250.83 390.27,250.74 390.42,250.66 390.56,250.57 390.71,250.48 390.85,250.39 391.00,250.30 391.15,250.39 391.29,250.48 391.44,250.57 391.58,250.66 391.73,250.74 391.88,250.83 392.02,250.91 392.17,250.98 392.31,251.06 392.46,251.13 392.60,251.20 392.75,251.27 392.90,251.33 393.04,251.40 393.19,251.46 393.33,251.51 393.48,251.56 393.62,251.61 393.77,251.66 393.92,251.70 394.06,251.73 394.21,251.76 394.35,251.79 394.50,251.80 394.50,252.20" fill="#2a3672" opacity="0.7000000000000001"/><rect x="212.70" y="275.25" width="2.70" height="1.10" fill="#40649a" opacity="0.5"/><rect x="223.60" y="275.25" width="3.60" height="1.10" fill="#40649a" opacity="0.5"/><rect x="231.80" y="275.25" width="3.60" height="1.10" fill="#40649a" opacity="0.5"/><rect x="240.80" y="275.25" width="32.70" height="1.10" fill="#40649a" opacity="0.5"/><rect x="290.00" y="275.25" width="5.00" height="1.10" fill="#40649a" opacity="0.5"/><rect x="344.00" y="275.25" width="4.00" height="1.10" fill="#40649a" opacity="0.5"/><rect x="354.00" y="275.25" width="3.00" height="1.10" fill="#40649a" opacity="0.5"/><rect x="360.00" y="275.25" width="38.00" height="1.10" fill="#40649a" opacity="0.5"/><rect x="399.50" y="275.25" width="2.00" height="1.10" fill="#40649a" opacity="0.5"/><polygon points="251.10,276.20 251.10,275.80 251.28,275.76 251.45,275.65 251.63,275.46 251.80,275.20 251.98,274.87 252.15,274.48 252.33,274.04 252.50,273.55 252.68,273.02 252.85,272.46 253.03,271.89 253.20,271.30 253.38,270.71 253.55,270.14 253.73,269.58 253.90,269.05 254.08,268.56 254.25,268.12 254.43,267.73 254.60,267.40 254.78,267.14 254.95,266.95 255.13,266.84 255.30,266.80 255.48,266.84 255.65,266.95 255.83,267.14 256.00,267.40 256.18,267.73 256.35,268.12 256.53,268.56 256.70,269.05 256.88,269.58 257.05,270.14 257.23,270.71 257.40,271.30 257.58,271.89 257.75,272.46 257.93,273.02 258.10,273.55 258.28,274.04 258.45,274.48 258.62,274.87 258.80,275.20 258.98,275.46 259.15,275.65 259.33,275.76 259.50,275.80 259.50,276.20" fill="#3d86c6" opacity="1"/><polygon points="253.00,276.20 253.00,275.80 253.10,275.05 253.19,274.30 253.29,273.55 253.38,272.80 253.48,272.05 253.57,271.30 253.67,270.55 253.77,269.80 253.86,269.05 253.96,268.30 254.05,267.55 254.15,266.80 254.25,266.05 254.34,265.30 254.44,264.55 254.53,263.80 254.63,263.05 254.72,262.30 254.82,261.55 254.92,260.80 255.01,260.05 255.11,259.30 255.20,258.55 255.30,257.80 255.40,258.55 255.49,259.30 255.59,260.05 255.68,260.80 255.78,261.55 255.88,262.30 255.97,263.05 256.07,263.80 256.16,264.55 256.26,265.30 256.35,266.05 256.45,266.80 256.55,267.55 256.64,268.30 256.74,269.05 256.83,269.80 256.93,270.55 257.02,271.30 257.12,272.05 257.22,272.80 257.31,273.55 257.41,274.30 257.50,275.05 257.60,275.80 257.60,276.20" fill="#3d86c6" opacity="1"/><polygon points="243.00,276.20 243.00,275.80 243.21,275.79 243.42,275.77 243.62,275.75 243.83,275.72 244.04,275.69 244.25,275.65 244.46,275.61 244.67,275.57 244.88,275.52 245.08,275.48 245.29,275.43 245.50,275.38 245.71,275.32 245.92,275.27 246.12,275.21 246.33,275.15 246.54,275.08 246.75,275.02 246.96,274.95 247.17,274.89 247.38,274.82 247.58,274.75 247.79,274.67 248.00,274.60 248.21,274.67 248.42,274.75 248.62,274.82 248.83,274.89 249.04,274.95 249.25,275.02 249.46,275.08 249.67,275.15 249.88,275.21 250.08,275.27 250.29,275.32 250.50,275.38 250.71,275.43 250.92,275.48 251.12,275.52 251.33,275.57 251.54,275.61 251.75,275.65 251.96,275.69 252.17,275.72 252.38,275.75 252.58,275.77 252.79,275.79 253.00,275.80 253.00,276.20" fill="#40649a" opacity="0.65"/><polygon points="260.00,276.20 260.00,275.80 260.21,275.79 260.42,275.78 260.62,275.76 260.83,275.73 261.04,275.70 261.25,275.68 261.46,275.64 261.67,275.61 261.88,275.57 262.08,275.53 262.29,275.49 262.50,275.45 262.71,275.40 262.92,275.35 263.12,275.31 263.33,275.26 263.54,275.20 263.75,275.15 263.96,275.10 264.17,275.04 264.38,274.98 264.58,274.92 264.79,274.86 265.00,274.80 265.21,274.86 265.42,274.92 265.62,274.98 265.83,275.04 266.04,275.10 266.25,275.15 266.46,275.20 266.67,275.26 266.88,275.31 267.08,275.35 267.29,275.40 267.50,275.45 267.71,275.49 267.92,275.53 268.12,275.57 268.33,275.61 268.54,275.64 268.75,275.68 268.96,275.70 269.17,275.73 269.38,275.76 269.58,275.78 269.79,275.79 270.00,275.80 270.00,276.20" fill="#40649a" opacity="0.65"/><polygon points="368.00,276.20 368.00,275.80 368.25,275.79 368.50,275.76 368.75,275.73 369.00,275.70 369.25,275.66 369.50,275.61 369.75,275.56 370.00,275.51 370.25,275.46 370.50,275.40 370.75,275.33 371.00,275.27 371.25,275.20 371.50,275.13 371.75,275.06 372.00,274.98 372.25,274.91 372.50,274.83 372.75,274.74 373.00,274.66 373.25,274.57 373.50,274.48 373.75,274.39 374.00,274.30 374.25,274.39 374.50,274.48 374.75,274.57 375.00,274.66 375.25,274.74 375.50,274.83 375.75,274.91 376.00,274.98 376.25,275.06 376.50,275.13 376.75,275.20 377.00,275.27 377.25,275.33 377.50,275.40 377.75,275.46 378.00,275.51 378.25,275.56 378.50,275.61 378.75,275.66 379.00,275.70 379.25,275.73 379.50,275.76 379.75,275.79 380.00,275.80 380.00,276.20" fill="#40649a" opacity="0.65"/><polygon points="375.50,276.20 375.50,275.80 375.69,275.78 375.88,275.74 376.06,275.69 376.25,275.63 376.44,275.56 376.62,275.49 376.81,275.41 377.00,275.32 377.19,275.23 377.38,275.13 377.56,275.02 377.75,274.92 377.94,274.80 378.12,274.69 378.31,274.56 378.50,274.44 378.69,274.31 378.88,274.18 379.06,274.04 379.25,273.90 379.44,273.75 379.62,273.61 379.81,273.45 380.00,273.30 380.19,273.45 380.38,273.61 380.56,273.75 380.75,273.90 380.94,274.04 381.12,274.18 381.31,274.31 381.50,274.44 381.69,274.56 381.88,274.69 382.06,274.80 382.25,274.92 382.44,275.02 382.62,275.13 382.81,275.23 383.00,275.32 383.19,275.41 383.38,275.49 383.56,275.56 383.75,275.63 383.94,275.69 384.12,275.74 384.31,275.78 384.50,275.80 384.50,276.20" fill="#40649a" opacity="0.65"/><polygon points="380.50,276.20 380.50,275.80 380.66,275.75 380.82,275.66 380.98,275.53 381.13,275.39 381.29,275.23 381.45,275.05 381.61,274.85 381.77,274.65 381.93,274.42 382.08,274.19 382.24,273.94 382.40,273.68 382.56,273.41 382.72,273.13 382.88,272.84 383.03,272.53 383.19,272.22 383.35,271.90 383.51,271.57 383.67,271.24 383.82,270.89 383.98,270.53 384.14,270.17 384.30,269.80 384.46,270.17 384.62,270.53 384.77,270.89 384.93,271.24 385.09,271.57 385.25,271.90 385.41,272.22 385.57,272.53 385.73,272.84 385.88,273.13 386.04,273.41 386.20,273.68 386.36,273.94 386.52,274.19 386.68,274.42 386.83,274.65 386.99,274.85 387.15,275.05 387.31,275.23 387.47,275.39 387.62,275.53 387.78,275.66 387.94,275.75 388.10,275.80 388.10,276.20" fill="#40649a" opacity="0.65"/><polygon points="385.00,276.20 385.00,275.80 385.12,275.78 385.25,275.75 385.38,275.71 385.50,275.66 385.62,275.61 385.75,275.55 385.88,275.48 386.00,275.42 386.12,275.34 386.25,275.26 386.38,275.18 386.50,275.09 386.62,275.00 386.75,274.91 386.88,274.81 387.00,274.71 387.12,274.61 387.25,274.50 387.38,274.39 387.50,274.28 387.62,274.16 387.75,274.04 387.88,273.92 388.00,273.80 388.12,273.92 388.25,274.04 388.38,274.16 388.50,274.28 388.62,274.39 388.75,274.50 388.88,274.61 389.00,274.71 389.12,274.81 389.25,274.91 389.38,275.00 389.50,275.09 389.62,275.18 389.75,275.26 389.88,275.34 390.00,275.42 390.12,275.48 390.25,275.55 390.38,275.61 390.50,275.66 390.62,275.71 390.75,275.75 390.88,275.78 391.00,275.80 391.00,276.20" fill="#40649a" opacity="0.65"/><rect x="221.00" y="300.05" width="18.00" height="1.10" fill="#4aaad0" opacity="0.5"/><rect x="247.00" y="300.05" width="22.00" height="1.10" fill="#4aaad0" opacity="0.5"/><rect x="278.00" y="300.05" width="3.70" height="1.10" fill="#4aaad0" opacity="0.5"/><rect x="290.80" y="300.05" width="3.20" height="1.10" fill="#4aaad0" opacity="0.5"/><rect x="296.00" y="300.05" width="3.50" height="1.10" fill="#4aaad0" opacity="0.5"/><rect x="314.00" y="300.05" width="3.50" height="1.10" fill="#4aaad0" opacity="0.5"/><rect x="325.00" y="300.05" width="4.00" height="1.10" fill="#4aaad0" opacity="0.5"/><rect x="353.50" y="300.05" width="43.50" height="1.10" fill="#4aaad0" opacity="0.5"/><rect x="399.50" y="300.05" width="2.00" height="1.10" fill="#4aaad0" opacity="0.5"/><polygon points="253.20,301.00 253.20,300.60 253.29,299.85 253.38,299.10 253.46,298.35 253.55,297.60 253.64,296.85 253.73,296.10 253.81,295.35 253.90,294.60 253.99,293.85 254.08,293.10 254.16,292.35 254.25,291.60 254.34,290.85 254.43,290.10 254.51,289.35 254.60,288.60 254.69,287.85 254.78,287.10 254.86,286.35 254.95,285.60 255.04,284.85 255.13,284.10 255.21,283.35 255.30,282.60 255.39,283.35 255.48,284.10 255.56,284.85 255.65,285.60 255.74,286.35 255.83,287.10 255.91,287.85 256.00,288.60 256.09,289.35 256.18,290.10 256.26,290.85 256.35,291.60 256.44,292.35 256.53,293.10 256.61,293.85 256.70,294.60 256.79,295.35 256.88,296.10 256.96,296.85 257.05,297.60 257.14,298.35 257.23,299.10 257.31,299.85 257.40,300.60 257.40,301.00" fill="#3fbbe6" opacity="1"/><polygon points="220.00,301.00 220.00,300.60 220.21,300.59 220.42,300.56 220.62,300.53 220.83,300.50 221.04,300.46 221.25,300.41 221.46,300.36 221.67,300.31 221.88,300.26 222.08,300.20 222.29,300.13 222.50,300.07 222.71,300.00 222.92,299.93 223.12,299.86 223.33,299.78 223.54,299.71 223.75,299.63 223.96,299.54 224.17,299.46 224.38,299.37 224.58,299.28 224.79,299.19 225.00,299.10 225.21,299.19 225.42,299.28 225.62,299.37 225.83,299.46 226.04,299.54 226.25,299.63 226.46,299.71 226.67,299.78 226.88,299.86 227.08,299.93 227.29,300.00 227.50,300.07 227.71,300.13 227.92,300.20 228.12,300.26 228.33,300.31 228.54,300.36 228.75,300.41 228.96,300.46 229.17,300.50 229.38,300.53 229.58,300.56 229.79,300.59 230.00,300.60 230.00,301.00" fill="#4aaad0" opacity="0.65"/><polygon points="245.00,301.00 245.00,300.60 245.21,300.59 245.42,300.58 245.62,300.56 245.83,300.53 246.04,300.50 246.25,300.48 246.46,300.44 246.67,300.41 246.88,300.37 247.08,300.33 247.29,300.29 247.50,300.25 247.71,300.20 247.92,300.15 248.12,300.11 248.33,300.06 248.54,300.00 248.75,299.95 248.96,299.90 249.17,299.84 249.38,299.78 249.58,299.72 249.79,299.66 250.00,299.60 250.21,299.66 250.42,299.72 250.62,299.78 250.83,299.84 251.04,299.90 251.25,299.95 251.46,300.00 251.67,300.06 251.88,300.11 252.08,300.15 252.29,300.20 252.50,300.25 252.71,300.29 252.92,300.33 253.12,300.37 253.33,300.41 253.54,300.44 253.75,300.48 253.96,300.50 254.17,300.53 254.38,300.56 254.58,300.58 254.79,300.59 255.00,300.60 255.00,301.00" fill="#4aaad0" opacity="0.65"/><polygon points="369.00,301.00 369.00,300.60 369.12,300.59 369.25,300.56 369.38,300.53 369.50,300.50 369.62,300.46 369.75,300.41 369.88,300.36 370.00,300.31 370.12,300.26 370.25,300.20 370.38,300.13 370.50,300.07 370.62,300.00 370.75,299.93 370.88,299.86 371.00,299.78 371.12,299.71 371.25,299.63 371.38,299.54 371.50,299.46 371.62,299.37 371.75,299.28 371.88,299.19 372.00,299.10 372.12,299.19 372.25,299.28 372.38,299.37 372.50,299.46 372.62,299.54 372.75,299.63 372.88,299.71 373.00,299.78 373.12,299.86 373.25,299.93 373.38,300.00 373.50,300.07 373.62,300.13 373.75,300.20 373.88,300.26 374.00,300.31 374.12,300.36 374.25,300.41 374.38,300.46 374.50,300.50 374.62,300.53 374.75,300.56 374.88,300.59 375.00,300.60 375.00,301.00" fill="#4aaad0" opacity="0.65"/><polygon points="375.00,301.00 375.00,300.60 375.17,300.59 375.33,300.57 375.50,300.55 375.67,300.52 375.83,300.49 376.00,300.45 376.17,300.41 376.33,300.37 376.50,300.32 376.67,300.28 376.83,300.23 377.00,300.18 377.17,300.12 377.33,300.07 377.50,300.01 377.67,299.95 377.83,299.88 378.00,299.82 378.17,299.75 378.33,299.69 378.50,299.62 378.67,299.55 378.83,299.47 379.00,299.40 379.17,299.47 379.33,299.55 379.50,299.62 379.67,299.69 379.83,299.75 380.00,299.82 380.17,299.88 380.33,299.95 380.50,300.01 380.67,300.07 380.83,300.12 381.00,300.18 381.17,300.23 381.33,300.28 381.50,300.32 381.67,300.37 381.83,300.41 382.00,300.45 382.17,300.49 382.33,300.52 382.50,300.55 382.67,300.57 382.83,300.59 383.00,300.60 383.00,301.00" fill="#4aaad0" opacity="0.65"/><polygon points="381.40,301.00 381.40,300.60 381.56,300.55 381.72,300.47 381.88,300.35 382.03,300.22 382.19,300.07 382.35,299.90 382.51,299.72 382.67,299.52 382.82,299.31 382.98,299.09 383.14,298.86 383.30,298.62 383.46,298.37 383.62,298.11 383.77,297.83 383.93,297.55 384.09,297.26 384.25,296.96 384.41,296.66 384.57,296.34 384.72,296.02 384.88,295.69 385.04,295.35 385.20,295.00 385.36,295.35 385.52,295.69 385.67,296.02 385.83,296.34 385.99,296.66 386.15,296.96 386.31,297.26 386.47,297.55 386.62,297.83 386.78,298.11 386.94,298.37 387.10,298.62 387.26,298.86 387.42,299.09 387.57,299.31 387.73,299.52 387.89,299.72 388.05,299.90 388.21,300.07 388.37,300.22 388.52,300.35 388.68,300.47 388.84,300.55 389.00,300.60 389.00,301.00" fill="#4aaad0" opacity="0.65"/><rect x="221.50" y="324.45" width="3.50" height="1.10" fill="#dcae40" opacity="0.72"/><rect x="251.00" y="324.45" width="9.00" height="1.10" fill="#dcae40" opacity="0.72"/><rect x="370.00" y="324.45" width="2.50" height="1.10" fill="#dcae40" opacity="0.72"/><rect x="379.00" y="324.45" width="10.40" height="1.10" fill="#dcae40" opacity="0.72"/><polygon points="220.50,325.40 220.50,325.00 220.60,324.98 220.71,324.94 220.81,324.89 220.92,324.83 221.02,324.76 221.12,324.69 221.23,324.61 221.33,324.52 221.44,324.43 221.54,324.33 221.65,324.22 221.75,324.12 221.85,324.00 221.96,323.89 222.06,323.76 222.17,323.64 222.27,323.51 222.38,323.38 222.48,323.24 222.58,323.10 222.69,322.95 222.79,322.81 222.90,322.65 223.00,322.50 223.10,322.65 223.21,322.81 223.31,322.95 223.42,323.10 223.52,323.24 223.62,323.38 223.73,323.51 223.83,323.64 223.94,323.76 224.04,323.89 224.15,324.00 224.25,324.12 224.35,324.22 224.46,324.33 224.56,324.43 224.67,324.52 224.77,324.61 224.88,324.69 224.98,324.76 225.08,324.83 225.19,324.89 225.29,324.94 225.40,324.98 225.50,325.00 225.50,325.40" fill="#dcae40" opacity="0.87"/><polygon points="251.70,325.40 251.70,325.00 251.85,324.97 252.00,324.86 252.15,324.70 252.30,324.46 252.45,324.17 252.60,323.83 252.75,323.44 252.90,323.00 253.05,322.53 253.20,322.04 253.35,321.52 253.50,321.00 253.65,320.48 253.80,319.96 253.95,319.47 254.10,319.00 254.25,318.56 254.40,318.17 254.55,317.83 254.70,317.54 254.85,317.30 255.00,317.14 255.15,317.03 255.30,317.00 255.45,317.03 255.60,317.14 255.75,317.30 255.90,317.54 256.05,317.83 256.20,318.17 256.35,318.56 256.50,319.00 256.65,319.47 256.80,319.96 256.95,320.48 257.10,321.00 257.25,321.52 257.40,322.04 257.55,322.53 257.70,323.00 257.85,323.44 258.00,323.83 258.15,324.17 258.30,324.46 258.45,324.70 258.60,324.86 258.75,324.97 258.90,325.00 258.90,325.40" fill="#e8b024" opacity="1"/><polygon points="252.90,325.40 252.90,325.00 253.00,324.21 253.10,323.42 253.20,322.62 253.30,321.83 253.40,321.04 253.50,320.25 253.60,319.46 253.70,318.67 253.80,317.88 253.90,317.08 254.00,316.29 254.10,315.50 254.20,314.71 254.30,313.92 254.40,313.13 254.50,312.33 254.60,311.54 254.70,310.75 254.80,309.96 254.90,309.17 255.00,308.38 255.10,307.58 255.20,306.79 255.30,306.00 255.40,306.79 255.50,307.58 255.60,308.37 255.70,309.17 255.80,309.96 255.90,310.75 256.00,311.54 256.10,312.33 256.20,313.12 256.30,313.92 256.40,314.71 256.50,315.50 256.60,316.29 256.70,317.08 256.80,317.88 256.90,318.67 257.00,319.46 257.10,320.25 257.20,321.04 257.30,321.83 257.40,322.62 257.50,323.42 257.60,324.21 257.70,325.00 257.70,325.40" fill="#e8b024" opacity="1"/><polygon points="378.00,325.40 378.00,325.00 378.17,324.98 378.33,324.95 378.50,324.91 378.67,324.86 378.83,324.81 379.00,324.75 379.17,324.68 379.33,324.62 379.50,324.54 379.67,324.46 379.83,324.38 380.00,324.29 380.17,324.20 380.33,324.11 380.50,324.01 380.67,323.91 380.83,323.81 381.00,323.70 381.17,323.59 381.33,323.48 381.50,323.36 381.67,323.24 381.83,323.12 382.00,323.00 382.17,323.12 382.33,323.24 382.50,323.36 382.67,323.48 382.83,323.59 383.00,323.70 383.17,323.81 383.33,323.91 383.50,324.01 383.67,324.11 383.83,324.20 384.00,324.29 384.17,324.38 384.33,324.46 384.50,324.54 384.67,324.62 384.83,324.68 385.00,324.75 385.17,324.81 385.33,324.86 385.50,324.91 385.67,324.95 385.83,324.98 386.00,325.00 386.00,325.40" fill="#dcae40" opacity="0.87"/><polygon points="381.00,325.40 381.00,325.00 381.17,324.96 381.33,324.89 381.50,324.80 381.67,324.69 381.83,324.57 382.00,324.44 382.17,324.29 382.33,324.13 382.50,323.97 382.67,323.79 382.83,323.60 383.00,323.41 383.17,323.21 383.33,323.00 383.50,322.78 383.67,322.55 383.83,322.32 384.00,322.08 384.17,321.83 384.33,321.58 384.50,321.32 384.67,321.05 384.83,320.78 385.00,320.50 385.17,320.78 385.33,321.05 385.50,321.32 385.67,321.58 385.83,321.83 386.00,322.08 386.17,322.32 386.33,322.55 386.50,322.78 386.67,323.00 386.83,323.21 387.00,323.41 387.17,323.60 387.33,323.79 387.50,323.97 387.67,324.13 387.83,324.29 388.00,324.44 388.17,324.57 388.33,324.69 388.50,324.80 388.67,324.89 388.83,324.96 389.00,325.00 389.00,325.40" fill="#dcae40" opacity="0.87"/><text x="213" y="335.2" font-size="4.2" fill="#1a1f6a" text-anchor="end" font-weight="normal" >SPI1</text><line x1="225" y1="333.4" x2="386" y2="333.4" stroke="#5a5a9a" stroke-width="0.8" stroke-dasharray="1.2 0.8"/><polygon points="221,333.4 225.4,330.6 225.4,336.2" fill="#1c2070"/><rect x="248.8" y="330.6" width="1.2" height="5.6" fill="#1c2070"/><rect x="256.0" y="330.6" width="1.2" height="5.6" fill="#1c2070"/><rect x="366.0" y="330.6" width="1.2" height="5.6" fill="#1c2070"/><rect x="385.3" y="331" width="2.2" height="5" fill="#1c2070"/><text x="423" y="224.6" font-size="16.5" fill="#000" text-anchor="start" font-weight="bold" >D</text><circle cx="469" cy="277.7" r="31" fill="rgb(240,150,152)"/><circle cx="454.6" cy="295.3" r="11.8" fill="rgb(192,212,142)"/><g clip-path="url(#cP)"><circle cx="454.6" cy="295.3" r="11.8" fill="rgb(190,178,104)"/></g><text x="469" y="270.4" font-size="8.2" fill="#111" text-anchor="middle" font-weight="normal" stroke="#111" stroke-width="0.08">15844</text><text x="452.8" y="295.2" font-size="6.3" fill="#111" text-anchor="middle" font-weight="normal" >2498</text><rect x="445.8" y="326.5" width="6.2" height="6.2" fill="rgb(240,150,152)"/><rect x="445.8" y="340" width="6.2" height="6.2" fill="rgb(192,212,142)"/><text x="458" y="331.2" font-size="6.4" fill="#222" text-anchor="start" font-weight="normal" >t(8;21) ERG</text><text x="458" y="344.2" font-size="6.4" fill="#222" text-anchor="start" font-weight="normal" >AML1-ETO</text>
</svg>
</body></html>
